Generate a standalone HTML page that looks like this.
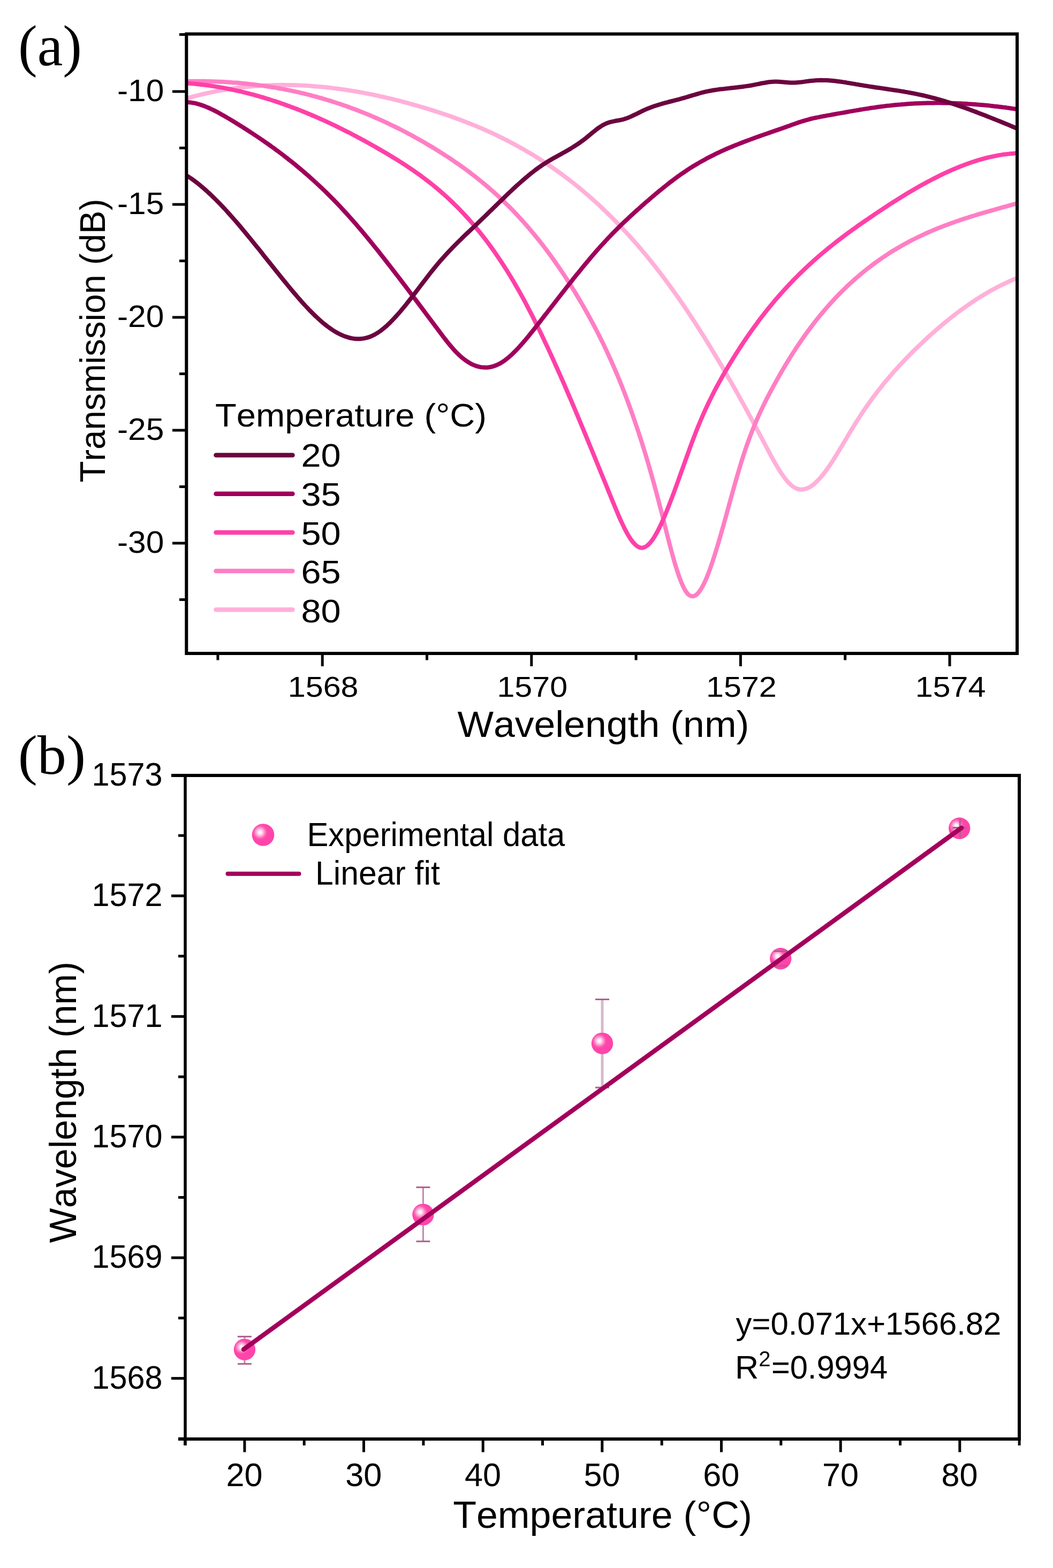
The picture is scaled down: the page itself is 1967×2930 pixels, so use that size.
<!DOCTYPE html><html><head><meta charset="utf-8"><style>html,body{margin:0;padding:0;background:#fff}svg{display:block}text{font-kerning:none;font-variant-ligatures:none}</style></head><body>
<svg width="1967" height="2930" viewBox="0 0 1967 2930">
<defs><clipPath id="ca"><rect x="348" y="63" width="1552" height="1158"/></clipPath><radialGradient id="sph" cx="0.36" cy="0.385" r="0.46" fx="0.36" fy="0.385"><stop offset="0" stop-color="#ffffff"/><stop offset="0.15" stop-color="#ffeef7"/><stop offset="0.35" stop-color="#ffb0d8"/><stop offset="0.6" stop-color="#ff5cb4"/><stop offset="0.75" stop-color="#ff45aa"/><stop offset="1" stop-color="#ff45aa"/></radialGradient></defs>
<rect width="1967" height="2930" fill="#fff"/>
<g clip-path="url(#ca)" fill="none" stroke-linejoin="round" stroke-linecap="round">
<path d="M345.0,184.9 C346.0,184.7 349.0,183.8 351.0,183.2 C353.0,182.6 355.0,182.1 357.0,181.5 C359.0,181.0 361.0,180.4 363.0,179.9 C365.0,179.4 367.0,178.9 369.0,178.4 C371.0,177.9 373.0,177.4 375.0,176.9 C377.0,176.4 379.0,175.9 381.0,175.5 C383.0,175.0 385.0,174.6 387.0,174.1 C389.0,173.7 391.0,173.2 393.0,172.8 C395.0,172.4 397.0,172.0 399.0,171.6 C401.0,171.2 403.0,170.8 405.0,170.4 C407.0,170.0 409.0,169.6 411.0,169.3 C413.0,168.9 415.0,168.6 417.0,168.2 C419.0,167.9 421.0,167.5 423.0,167.2 C425.0,166.9 427.0,166.6 429.0,166.3 C431.0,166.0 433.0,165.7 435.0,165.4 C437.0,165.1 439.0,164.8 441.0,164.6 C443.0,164.3 445.0,164.0 447.0,163.8 C449.0,163.6 451.0,163.3 453.0,163.1 C455.0,162.9 457.0,162.6 459.0,162.4 C461.0,162.2 463.0,162.0 465.0,161.8 C467.0,161.6 469.0,161.5 471.0,161.3 C473.0,161.1 475.0,161.0 477.0,160.8 C479.0,160.7 481.0,160.5 483.0,160.4 C485.0,160.2 487.0,160.1 489.0,160.0 C491.0,159.9 493.0,159.8 495.0,159.7 C497.0,159.6 499.0,159.5 501.0,159.4 C503.0,159.3 505.0,159.2 507.0,159.2 C509.0,159.1 511.0,159.1 513.0,159.0 C515.0,159.0 517.0,158.9 519.0,158.9 C521.0,158.9 523.0,158.9 525.0,158.8 C527.0,158.8 529.0,158.8 531.0,158.8 C533.0,158.8 535.0,158.8 537.0,158.9 C539.0,158.9 541.0,158.9 543.0,159.0 C545.0,159.0 547.0,159.0 549.0,159.1 C551.0,159.2 553.0,159.2 555.0,159.3 C557.0,159.4 559.0,159.4 561.0,159.5 C563.0,159.6 565.0,159.7 567.0,159.8 C569.0,159.9 571.0,160.0 573.0,160.1 C575.0,160.3 577.0,160.4 579.0,160.5 C581.0,160.7 583.0,160.8 585.0,161.0 C587.0,161.1 589.0,161.3 591.0,161.4 C593.0,161.6 595.0,161.8 597.0,162.0 C599.0,162.1 601.0,162.3 603.0,162.5 C605.0,162.7 607.0,162.9 609.0,163.1 C611.0,163.3 613.0,163.6 615.0,163.8 C617.0,164.0 619.0,164.2 621.0,164.5 C623.0,164.7 625.0,165.0 627.0,165.2 C629.0,165.5 631.0,165.8 633.0,166.0 C635.0,166.3 637.0,166.6 639.0,166.9 C641.0,167.1 643.0,167.4 645.0,167.7 C647.0,168.0 649.0,168.3 651.0,168.7 C653.0,169.0 655.0,169.3 657.0,169.6 C659.0,169.9 661.0,170.3 663.0,170.6 C665.0,171.0 667.0,171.3 669.0,171.7 C671.0,172.0 673.0,172.4 675.0,172.7 C677.0,173.1 679.0,173.5 681.0,173.9 C683.0,174.2 685.0,174.6 687.0,175.0 C689.0,175.4 691.0,175.8 693.0,176.2 C695.0,176.6 697.0,177.0 699.0,177.5 C701.0,177.9 703.0,178.3 705.0,178.7 C707.0,179.2 709.0,179.6 711.0,180.1 C713.0,180.5 715.0,181.0 717.0,181.4 C719.0,181.9 721.0,182.3 723.0,182.8 C725.0,183.3 727.0,183.8 729.0,184.2 C731.0,184.7 733.0,185.2 735.0,185.7 C737.0,186.2 739.0,186.7 741.0,187.2 C743.0,187.7 745.0,188.2 747.0,188.7 C749.0,189.2 751.0,189.8 753.0,190.3 C755.0,190.8 757.0,191.4 759.0,191.9 C761.0,192.4 763.0,193.0 765.0,193.5 C767.0,194.1 769.0,194.6 771.0,195.2 C773.0,195.8 775.0,196.3 777.0,196.9 C779.0,197.5 781.0,198.1 783.0,198.6 C785.0,199.2 787.0,199.8 789.0,200.4 C791.0,201.0 793.0,201.6 795.0,202.2 C797.0,202.8 799.0,203.4 801.0,204.0 C803.0,204.7 805.0,205.3 807.0,205.9 C809.0,206.5 811.0,207.2 813.0,207.8 C815.0,208.5 817.0,209.1 819.0,209.8 C821.0,210.4 823.0,211.1 825.0,211.7 C827.0,212.4 829.0,213.1 831.0,213.7 C833.0,214.4 835.0,215.1 837.0,215.8 C839.0,216.5 841.0,217.2 843.0,217.9 C845.0,218.6 847.0,219.3 849.0,220.0 C851.0,220.8 853.0,221.5 855.0,222.2 C857.0,223.0 859.0,223.7 861.0,224.5 C863.0,225.2 865.0,226.0 867.0,226.7 C869.0,227.5 871.0,228.3 873.0,229.1 C875.0,229.8 877.0,230.6 879.0,231.4 C881.0,232.2 883.0,233.0 885.0,233.9 C887.0,234.7 889.0,235.5 891.0,236.3 C893.0,237.2 895.0,238.0 897.0,238.9 C899.0,239.7 901.0,240.6 903.0,241.5 C905.0,242.3 907.0,243.2 909.0,244.1 C911.0,245.0 913.0,245.9 915.0,246.8 C917.0,247.7 919.0,248.7 921.0,249.6 C923.0,250.5 925.0,251.5 927.0,252.4 C929.0,253.4 931.0,254.3 933.0,255.3 C935.0,256.3 937.0,257.3 939.0,258.3 C941.0,259.3 943.0,260.3 945.0,261.3 C947.0,262.3 949.0,263.3 951.0,264.4 C953.0,265.4 955.0,266.5 957.0,267.5 C959.0,268.6 961.0,269.7 963.0,270.8 C965.0,271.8 967.0,272.9 969.0,274.1 C971.0,275.2 973.0,276.3 975.0,277.4 C977.0,278.6 979.0,279.7 981.0,280.9 C983.0,282.0 985.0,283.2 987.0,284.4 C989.0,285.6 991.0,286.8 993.0,288.0 C995.0,289.2 997.0,290.4 999.0,291.6 C1001.0,292.9 1003.0,294.1 1005.0,295.4 C1007.0,296.7 1009.0,297.9 1011.0,299.2 C1013.0,300.5 1015.0,301.8 1017.0,303.1 C1019.0,304.4 1021.0,305.8 1023.0,307.1 C1025.0,308.5 1027.0,309.8 1029.0,311.2 C1031.0,312.6 1033.0,314.0 1035.0,315.4 C1037.0,316.8 1039.0,318.2 1041.0,319.6 C1043.0,321.0 1045.0,322.5 1047.0,324.0 C1049.0,325.4 1051.0,326.9 1053.0,328.4 C1055.0,329.9 1057.0,331.4 1059.0,332.9 C1061.0,334.4 1063.0,336.0 1065.0,337.5 C1067.0,339.1 1069.0,340.6 1071.0,342.2 C1073.0,343.8 1075.0,345.4 1077.0,347.0 C1079.0,348.6 1081.0,350.3 1083.0,351.9 C1085.0,353.6 1087.0,355.2 1089.0,356.9 C1091.0,358.6 1093.0,360.3 1095.0,362.0 C1097.0,363.7 1099.0,365.5 1101.0,367.2 C1103.0,369.0 1105.0,370.7 1107.0,372.5 C1109.0,374.3 1111.0,376.1 1113.0,377.9 C1115.0,379.7 1117.0,381.6 1119.0,383.4 C1121.0,385.3 1123.0,387.2 1125.0,389.0 C1127.0,390.9 1129.0,392.8 1131.0,394.8 C1133.0,396.7 1135.0,398.6 1137.0,400.6 C1139.0,402.6 1141.0,404.5 1143.0,406.5 C1145.0,408.5 1147.0,410.6 1149.0,412.6 C1151.0,414.6 1153.0,416.7 1155.0,418.8 C1157.0,420.8 1159.0,422.9 1161.0,425.0 C1163.0,427.1 1165.0,429.3 1167.0,431.4 C1169.0,433.6 1171.0,435.8 1173.0,437.9 C1175.0,440.1 1177.0,442.3 1179.0,444.6 C1181.0,446.8 1183.0,449.1 1185.0,451.3 C1187.0,453.6 1189.0,455.9 1191.0,458.2 C1193.0,460.5 1195.0,462.9 1197.0,465.2 C1199.0,467.6 1201.0,469.9 1203.0,472.3 C1205.0,474.7 1207.0,477.1 1209.0,479.6 C1211.0,482.0 1213.0,484.5 1215.0,486.9 C1217.0,489.4 1219.0,491.9 1221.0,494.4 C1223.0,497.0 1225.0,499.5 1227.0,502.1 C1229.0,504.6 1231.0,507.2 1233.0,509.8 C1235.0,512.4 1237.0,515.1 1239.0,517.7 C1241.0,520.4 1243.0,523.1 1245.0,525.8 C1247.0,528.5 1249.0,531.2 1251.0,533.9 C1253.0,536.7 1255.0,539.4 1257.0,542.2 C1259.0,545.0 1261.0,547.8 1263.0,550.7 C1265.0,553.5 1267.0,556.4 1269.0,559.2 C1271.0,562.1 1273.0,565.0 1275.0,567.9 C1277.0,570.9 1279.0,573.8 1281.0,576.8 C1283.0,579.7 1285.0,582.7 1287.0,585.7 C1289.0,588.8 1291.0,591.8 1293.0,594.8 C1295.0,597.9 1297.0,601.0 1299.0,604.1 C1301.0,607.2 1303.0,610.3 1305.0,613.4 C1307.0,616.5 1309.0,619.7 1311.0,622.9 C1313.0,626.0 1315.0,629.2 1317.0,632.4 C1319.0,635.7 1321.0,638.9 1323.0,642.1 C1325.0,645.4 1327.0,648.7 1329.0,652.0 C1331.0,655.2 1333.0,658.6 1335.0,661.9 C1337.0,665.2 1339.0,668.6 1341.0,671.9 C1343.0,675.3 1345.0,678.7 1347.0,682.1 C1349.0,685.5 1351.0,688.9 1353.0,692.3 C1355.0,695.7 1357.0,699.2 1359.0,702.7 C1361.0,706.1 1363.0,709.6 1365.0,713.1 C1367.0,716.6 1369.0,720.1 1371.0,723.7 C1373.0,727.2 1375.0,730.8 1377.0,734.3 C1379.0,737.9 1381.0,741.5 1383.0,745.1 C1385.0,748.7 1387.0,752.3 1389.0,755.9 C1391.0,759.5 1393.0,763.2 1395.0,766.8 C1397.0,770.5 1399.0,774.2 1401.0,777.9 C1403.0,781.6 1405.0,785.3 1407.0,789.0 C1409.0,792.7 1411.0,796.4 1413.0,800.2 C1415.0,803.9 1417.0,807.7 1419.0,811.4 C1421.0,815.2 1423.0,819.0 1425.0,822.8 C1427.0,826.6 1429.0,830.4 1431.0,834.2 C1433.0,838.0 1435.0,841.8 1437.0,845.6 C1439.0,849.3 1441.0,853.1 1443.0,856.7 C1445.0,860.3 1447.0,863.9 1449.0,867.3 C1451.0,870.8 1453.0,874.2 1455.0,877.4 C1457.0,880.6 1459.0,883.7 1461.0,886.6 C1463.0,889.5 1465.0,892.3 1467.0,894.8 C1469.0,897.4 1471.0,899.7 1473.0,901.8 C1475.0,903.9 1477.0,905.9 1479.0,907.5 C1481.0,909.1 1483.0,910.5 1485.0,911.5 C1487.0,912.6 1489.0,913.4 1491.0,913.9 C1493.0,914.5 1495.0,914.7 1497.0,914.7 C1499.0,914.7 1501.0,914.5 1503.0,914.0 C1505.0,913.6 1507.0,912.8 1509.0,911.9 C1511.0,911.0 1513.0,909.9 1515.0,908.6 C1517.0,907.3 1519.0,905.8 1521.0,904.1 C1523.0,902.4 1525.0,900.5 1527.0,898.5 C1529.0,896.5 1531.0,894.3 1533.0,892.0 C1535.0,889.7 1537.0,887.2 1539.0,884.7 C1541.0,882.1 1543.0,879.4 1545.0,876.6 C1547.0,873.8 1549.0,870.9 1551.0,868.0 C1553.0,865.0 1555.0,861.9 1557.0,858.8 C1559.0,855.7 1561.0,852.4 1563.0,849.2 C1565.0,846.0 1567.0,842.7 1569.0,839.3 C1571.0,836.0 1573.0,832.7 1575.0,829.3 C1577.0,825.9 1579.0,822.5 1581.0,819.2 C1583.0,815.8 1585.0,812.4 1587.0,809.1 C1589.0,805.8 1591.0,802.4 1593.0,799.1 C1595.0,795.9 1597.0,792.6 1599.0,789.5 C1601.0,786.3 1603.0,783.1 1605.0,780.1 C1607.0,777.0 1609.0,773.9 1611.0,770.9 C1613.0,768.0 1615.0,765.0 1617.0,762.1 C1619.0,759.2 1621.0,756.4 1623.0,753.5 C1625.0,750.7 1627.0,748.0 1629.0,745.2 C1631.0,742.5 1633.0,739.8 1635.0,737.1 C1637.0,734.5 1639.0,731.9 1641.0,729.3 C1643.0,726.7 1645.0,724.2 1647.0,721.7 C1649.0,719.2 1651.0,716.7 1653.0,714.3 C1655.0,711.9 1657.0,709.5 1659.0,707.1 C1661.0,704.7 1663.0,702.4 1665.0,700.1 C1667.0,697.8 1669.0,695.5 1671.0,693.2 C1673.0,691.0 1675.0,688.8 1677.0,686.6 C1679.0,684.4 1681.0,682.2 1683.0,680.1 C1685.0,677.9 1687.0,675.8 1689.0,673.7 C1691.0,671.6 1693.0,669.5 1695.0,667.5 C1697.0,665.4 1699.0,663.4 1701.0,661.4 C1703.0,659.4 1705.0,657.4 1707.0,655.4 C1709.0,653.4 1711.0,651.5 1713.0,649.5 C1715.0,647.6 1717.0,645.7 1719.0,643.8 C1721.0,641.9 1723.0,640.0 1725.0,638.1 C1727.0,636.2 1729.0,634.4 1731.0,632.5 C1733.0,630.7 1735.0,628.8 1737.0,627.0 C1739.0,625.2 1741.0,623.4 1743.0,621.7 C1745.0,619.9 1747.0,618.1 1749.0,616.4 C1751.0,614.7 1753.0,612.9 1755.0,611.2 C1757.0,609.5 1759.0,607.8 1761.0,606.2 C1763.0,604.5 1765.0,602.8 1767.0,601.2 C1769.0,599.6 1771.0,597.9 1773.0,596.3 C1775.0,594.7 1777.0,593.2 1779.0,591.6 C1781.0,590.0 1783.0,588.5 1785.0,586.9 C1787.0,585.4 1789.0,583.9 1791.0,582.4 C1793.0,580.9 1795.0,579.4 1797.0,578.0 C1799.0,576.5 1801.0,575.1 1803.0,573.7 C1805.0,572.2 1807.0,570.8 1809.0,569.5 C1811.0,568.1 1813.0,566.7 1815.0,565.4 C1817.0,564.0 1819.0,562.7 1821.0,561.4 C1823.0,560.1 1825.0,558.8 1827.0,557.5 C1829.0,556.2 1831.0,555.0 1833.0,553.7 C1835.0,552.5 1837.0,551.3 1839.0,550.1 C1841.0,548.9 1843.0,547.7 1845.0,546.5 C1847.0,545.4 1849.0,544.2 1851.0,543.1 C1853.0,542.0 1855.0,540.9 1857.0,539.8 C1859.0,538.7 1861.0,537.7 1863.0,536.6 C1865.0,535.6 1867.0,534.6 1869.0,533.5 C1871.0,532.5 1873.0,531.6 1875.0,530.6 C1877.0,529.6 1879.0,528.7 1881.0,527.8 C1883.0,526.8 1885.0,525.9 1887.0,525.0 C1889.0,524.2 1891.0,523.3 1893.0,522.4 C1895.0,521.6 1897.0,520.8 1899.0,520.0 C1901.0,519.2 1904.0,518.0 1905.0,517.6" stroke="#ffb0da" stroke-width="8"/>
<path d="M345.0,152.0 C346.0,152.0 349.0,151.9 351.0,151.9 C353.0,151.9 355.0,151.8 357.0,151.8 C359.0,151.8 361.0,151.8 363.0,151.7 C365.0,151.7 367.0,151.7 369.0,151.7 C371.0,151.7 373.0,151.7 375.0,151.7 C377.0,151.8 379.0,151.8 381.0,151.8 C383.0,151.8 385.0,151.9 387.0,151.9 C389.0,151.9 391.0,152.0 393.0,152.0 C395.0,152.1 397.0,152.2 399.0,152.2 C401.0,152.3 403.0,152.4 405.0,152.4 C407.0,152.5 409.0,152.6 411.0,152.7 C413.0,152.8 415.0,152.9 417.0,153.0 C419.0,153.1 421.0,153.2 423.0,153.3 C425.0,153.5 427.0,153.6 429.0,153.7 C431.0,153.9 433.0,154.0 435.0,154.2 C437.0,154.3 439.0,154.5 441.0,154.6 C443.0,154.8 445.0,155.0 447.0,155.1 C449.0,155.3 451.0,155.5 453.0,155.7 C455.0,155.9 457.0,156.1 459.0,156.3 C461.0,156.5 463.0,156.7 465.0,156.9 C467.0,157.1 469.0,157.4 471.0,157.6 C473.0,157.8 475.0,158.1 477.0,158.3 C479.0,158.6 481.0,158.8 483.0,159.1 C485.0,159.4 487.0,159.6 489.0,159.9 C491.0,160.2 493.0,160.5 495.0,160.8 C497.0,161.1 499.0,161.4 501.0,161.7 C503.0,162.0 505.0,162.3 507.0,162.7 C509.0,163.0 511.0,163.3 513.0,163.6 C515.0,164.0 517.0,164.3 519.0,164.7 C521.0,165.0 523.0,165.4 525.0,165.8 C527.0,166.2 529.0,166.5 531.0,166.9 C533.0,167.3 535.0,167.7 537.0,168.1 C539.0,168.5 541.0,168.9 543.0,169.3 C545.0,169.8 547.0,170.2 549.0,170.6 C551.0,171.1 553.0,171.5 555.0,171.9 C557.0,172.4 559.0,172.9 561.0,173.3 C563.0,173.8 565.0,174.3 567.0,174.7 C569.0,175.2 571.0,175.7 573.0,176.2 C575.0,176.7 577.0,177.2 579.0,177.7 C581.0,178.3 583.0,178.8 585.0,179.3 C587.0,179.8 589.0,180.4 591.0,180.9 C593.0,181.5 595.0,182.0 597.0,182.6 C599.0,183.2 601.0,183.7 603.0,184.3 C605.0,184.9 607.0,185.5 609.0,186.1 C611.0,186.7 613.0,187.3 615.0,187.9 C617.0,188.5 619.0,189.1 621.0,189.8 C623.0,190.4 625.0,191.1 627.0,191.7 C629.0,192.4 631.0,193.0 633.0,193.7 C635.0,194.3 637.0,195.0 639.0,195.7 C641.0,196.4 643.0,197.1 645.0,197.8 C647.0,198.5 649.0,199.2 651.0,199.9 C653.0,200.6 655.0,201.4 657.0,202.1 C659.0,202.8 661.0,203.6 663.0,204.3 C665.0,205.1 667.0,205.9 669.0,206.6 C671.0,207.4 673.0,208.2 675.0,209.0 C677.0,209.8 679.0,210.6 681.0,211.4 C683.0,212.2 685.0,213.0 687.0,213.8 C689.0,214.7 691.0,215.5 693.0,216.3 C695.0,217.2 697.0,218.0 699.0,218.9 C701.0,219.8 703.0,220.6 705.0,221.5 C707.0,222.4 709.0,223.3 711.0,224.2 C713.0,225.1 715.0,226.0 717.0,226.9 C719.0,227.8 721.0,228.8 723.0,229.7 C725.0,230.7 727.0,231.6 729.0,232.6 C731.0,233.5 733.0,234.5 735.0,235.5 C737.0,236.4 739.0,237.4 741.0,238.4 C743.0,239.4 745.0,240.4 747.0,241.4 C749.0,242.4 751.0,243.5 753.0,244.5 C755.0,245.5 757.0,246.6 759.0,247.6 C761.0,248.7 763.0,249.7 765.0,250.8 C767.0,251.9 769.0,253.0 771.0,254.1 C773.0,255.1 775.0,256.2 777.0,257.4 C779.0,258.5 781.0,259.6 783.0,260.7 C785.0,261.9 787.0,263.0 789.0,264.1 C791.0,265.3 793.0,266.5 795.0,267.6 C797.0,268.8 799.0,270.0 801.0,271.2 C803.0,272.4 805.0,273.6 807.0,274.8 C809.0,276.0 811.0,277.2 813.0,278.4 C815.0,279.7 817.0,280.9 819.0,282.2 C821.0,283.4 823.0,284.7 825.0,285.9 C827.0,287.2 829.0,288.5 831.0,289.8 C833.0,291.1 835.0,292.4 837.0,293.7 C839.0,295.0 841.0,296.3 843.0,297.7 C845.0,299.0 847.0,300.4 849.0,301.8 C851.0,303.1 853.0,304.5 855.0,305.9 C857.0,307.3 859.0,308.7 861.0,310.1 C863.0,311.5 865.0,313.0 867.0,314.4 C869.0,315.9 871.0,317.4 873.0,318.8 C875.0,320.3 877.0,321.8 879.0,323.3 C881.0,324.9 883.0,326.4 885.0,327.9 C887.0,329.5 889.0,331.1 891.0,332.6 C893.0,334.2 895.0,335.8 897.0,337.5 C899.0,339.1 901.0,340.7 903.0,342.4 C905.0,344.0 907.0,345.7 909.0,347.4 C911.0,349.1 913.0,350.8 915.0,352.6 C917.0,354.3 919.0,356.1 921.0,357.8 C923.0,359.6 925.0,361.4 927.0,363.2 C929.0,365.1 931.0,366.9 933.0,368.8 C935.0,370.7 937.0,372.5 939.0,374.5 C941.0,376.4 943.0,378.3 945.0,380.3 C947.0,382.2 949.0,384.2 951.0,386.2 C953.0,388.2 955.0,390.2 957.0,392.3 C959.0,394.4 961.0,396.4 963.0,398.5 C965.0,400.7 967.0,402.8 969.0,404.9 C971.0,407.1 973.0,409.3 975.0,411.5 C977.0,413.7 979.0,416.0 981.0,418.2 C983.0,420.5 985.0,422.8 987.0,425.1 C989.0,427.4 991.0,429.8 993.0,432.2 C995.0,434.5 997.0,436.9 999.0,439.4 C1001.0,441.8 1003.0,444.3 1005.0,446.8 C1007.0,449.3 1009.0,451.8 1011.0,454.4 C1013.0,456.9 1015.0,459.5 1017.0,462.1 C1019.0,464.8 1021.0,467.4 1023.0,470.1 C1025.0,472.8 1027.0,475.5 1029.0,478.3 C1031.0,481.0 1033.0,483.8 1035.0,486.6 C1037.0,489.4 1039.0,492.3 1041.0,495.2 C1043.0,498.0 1045.0,501.0 1047.0,503.9 C1049.0,506.9 1051.0,509.8 1053.0,512.9 C1055.0,515.9 1057.0,518.9 1059.0,522.0 C1061.0,525.1 1063.0,528.3 1065.0,531.4 C1067.0,534.6 1069.0,537.8 1071.0,541.0 C1073.0,544.3 1075.0,547.6 1077.0,550.9 C1079.0,554.2 1081.0,557.6 1083.0,560.9 C1085.0,564.3 1087.0,567.8 1089.0,571.2 C1091.0,574.7 1093.0,578.2 1095.0,581.8 C1097.0,585.3 1099.0,588.9 1101.0,592.6 C1103.0,596.2 1105.0,599.9 1107.0,603.6 C1109.0,607.4 1111.0,611.2 1113.0,615.0 C1115.0,618.8 1117.0,622.7 1119.0,626.7 C1121.0,630.7 1123.0,634.7 1125.0,638.8 C1127.0,642.8 1129.0,647.0 1131.0,651.2 C1133.0,655.4 1135.0,659.7 1137.0,664.1 C1139.0,668.4 1141.0,672.8 1143.0,677.3 C1145.0,681.9 1147.0,686.4 1149.0,691.1 C1151.0,695.8 1153.0,700.5 1155.0,705.3 C1157.0,710.2 1159.0,715.1 1161.0,720.1 C1163.0,725.1 1165.0,730.2 1167.0,735.4 C1169.0,740.6 1171.0,745.9 1173.0,751.2 C1175.0,756.6 1177.0,762.1 1179.0,767.7 C1181.0,773.3 1183.0,779.0 1185.0,784.8 C1187.0,790.6 1189.0,796.5 1191.0,802.5 C1193.0,808.5 1195.0,814.6 1197.0,820.8 C1199.0,827.1 1201.0,833.4 1203.0,839.9 C1205.0,846.4 1207.0,853.0 1209.0,859.7 C1211.0,866.5 1213.0,873.3 1215.0,880.3 C1217.0,887.3 1219.0,894.4 1221.0,901.6 C1223.0,908.8 1225.0,916.2 1227.0,923.7 C1229.0,931.2 1231.0,938.9 1233.0,946.7 C1235.0,954.4 1237.0,962.4 1239.0,970.3 C1241.0,978.3 1243.0,986.3 1245.0,994.2 C1247.0,1002.1 1249.0,1010.0 1251.0,1017.6 C1253.0,1025.2 1255.0,1032.7 1257.0,1039.8 C1259.0,1046.9 1261.0,1053.9 1263.0,1060.3 C1265.0,1066.8 1267.0,1072.9 1269.0,1078.4 C1271.0,1084.0 1273.0,1089.1 1275.0,1093.5 C1277.0,1097.9 1279.0,1101.8 1281.0,1104.8 C1283.0,1107.9 1285.0,1110.3 1287.0,1111.9 C1289.0,1113.5 1291.0,1114.2 1293.0,1114.3 C1295.0,1114.5 1297.0,1113.8 1299.0,1112.6 C1301.0,1111.4 1303.0,1109.5 1305.0,1107.1 C1307.0,1104.7 1309.0,1101.7 1311.0,1098.2 C1313.0,1094.8 1315.0,1090.8 1317.0,1086.4 C1319.0,1082.0 1321.0,1077.2 1323.0,1072.0 C1325.0,1066.9 1327.0,1061.3 1329.0,1055.5 C1331.0,1049.7 1333.0,1043.6 1335.0,1037.3 C1337.0,1031.0 1339.0,1024.4 1341.0,1017.7 C1343.0,1011.0 1345.0,1004.1 1347.0,997.1 C1349.0,990.1 1351.0,983.0 1353.0,975.8 C1355.0,968.6 1357.0,961.3 1359.0,954.1 C1361.0,946.8 1363.0,939.5 1365.0,932.2 C1367.0,925.0 1369.0,917.8 1371.0,910.6 C1373.0,903.5 1375.0,896.4 1377.0,889.6 C1379.0,882.7 1381.0,875.9 1383.0,869.3 C1385.0,862.7 1387.0,856.3 1389.0,850.2 C1391.0,844.0 1393.0,838.1 1395.0,832.4 C1397.0,826.7 1399.0,821.2 1401.0,815.9 C1403.0,810.6 1405.0,805.5 1407.0,800.5 C1409.0,795.6 1411.0,790.8 1413.0,786.2 C1415.0,781.5 1417.0,777.1 1419.0,772.7 C1421.0,768.3 1423.0,764.1 1425.0,759.9 C1427.0,755.8 1429.0,751.8 1431.0,747.8 C1433.0,743.8 1435.0,740.0 1437.0,736.2 C1439.0,732.3 1441.0,728.6 1443.0,724.9 C1445.0,721.1 1447.0,717.5 1449.0,713.9 C1451.0,710.3 1453.0,706.7 1455.0,703.2 C1457.0,699.6 1459.0,696.2 1461.0,692.8 C1463.0,689.3 1465.0,686.0 1467.0,682.6 C1469.0,679.3 1471.0,676.0 1473.0,672.8 C1475.0,669.5 1477.0,666.3 1479.0,663.2 C1481.0,660.0 1483.0,656.9 1485.0,653.9 C1487.0,650.8 1489.0,647.8 1491.0,644.8 C1493.0,641.8 1495.0,638.9 1497.0,636.0 C1499.0,633.1 1501.0,630.2 1503.0,627.4 C1505.0,624.6 1507.0,621.9 1509.0,619.1 C1511.0,616.4 1513.0,613.7 1515.0,611.0 C1517.0,608.4 1519.0,605.8 1521.0,603.2 C1523.0,600.6 1525.0,598.1 1527.0,595.6 C1529.0,593.1 1531.0,590.6 1533.0,588.2 C1535.0,585.8 1537.0,583.4 1539.0,581.0 C1541.0,578.7 1543.0,576.3 1545.0,574.0 C1547.0,571.8 1549.0,569.5 1551.0,567.3 C1553.0,565.1 1555.0,562.9 1557.0,560.7 C1559.0,558.6 1561.0,556.4 1563.0,554.3 C1565.0,552.3 1567.0,550.2 1569.0,548.2 C1571.0,546.1 1573.0,544.1 1575.0,542.2 C1577.0,540.2 1579.0,538.3 1581.0,536.3 C1583.0,534.4 1585.0,532.6 1587.0,530.7 C1589.0,528.8 1591.0,527.0 1593.0,525.2 C1595.0,523.4 1597.0,521.6 1599.0,519.9 C1601.0,518.1 1603.0,516.4 1605.0,514.7 C1607.0,513.0 1609.0,511.4 1611.0,509.7 C1613.0,508.1 1615.0,506.4 1617.0,504.8 C1619.0,503.2 1621.0,501.7 1623.0,500.1 C1625.0,498.6 1627.0,497.0 1629.0,495.5 C1631.0,494.0 1633.0,492.5 1635.0,491.1 C1637.0,489.6 1639.0,488.2 1641.0,486.7 C1643.0,485.3 1645.0,483.9 1647.0,482.5 C1649.0,481.2 1651.0,479.8 1653.0,478.5 C1655.0,477.1 1657.0,475.8 1659.0,474.5 C1661.0,473.2 1663.0,472.0 1665.0,470.7 C1667.0,469.4 1669.0,468.2 1671.0,467.0 C1673.0,465.8 1675.0,464.6 1677.0,463.4 C1679.0,462.2 1681.0,461.0 1683.0,459.9 C1685.0,458.8 1687.0,457.6 1689.0,456.5 C1691.0,455.4 1693.0,454.3 1695.0,453.2 C1697.0,452.2 1699.0,451.1 1701.0,450.1 C1703.0,449.0 1705.0,448.0 1707.0,447.0 C1709.0,446.0 1711.0,445.0 1713.0,444.0 C1715.0,443.0 1717.0,442.0 1719.0,441.1 C1721.0,440.1 1723.0,439.2 1725.0,438.3 C1727.0,437.4 1729.0,436.4 1731.0,435.5 C1733.0,434.6 1735.0,433.8 1737.0,432.9 C1739.0,432.0 1741.0,431.2 1743.0,430.3 C1745.0,429.5 1747.0,428.7 1749.0,427.8 C1751.0,427.0 1753.0,426.2 1755.0,425.4 C1757.0,424.6 1759.0,423.8 1761.0,423.1 C1763.0,422.3 1765.0,421.5 1767.0,420.8 C1769.0,420.0 1771.0,419.3 1773.0,418.5 C1775.0,417.8 1777.0,417.1 1779.0,416.4 C1781.0,415.6 1783.0,414.9 1785.0,414.2 C1787.0,413.5 1789.0,412.9 1791.0,412.2 C1793.0,411.5 1795.0,410.8 1797.0,410.2 C1799.0,409.5 1801.0,408.8 1803.0,408.2 C1805.0,407.5 1807.0,406.9 1809.0,406.3 C1811.0,405.6 1813.0,405.0 1815.0,404.4 C1817.0,403.8 1819.0,403.1 1821.0,402.5 C1823.0,401.9 1825.0,401.3 1827.0,400.7 C1829.0,400.1 1831.0,399.5 1833.0,398.9 C1835.0,398.3 1837.0,397.7 1839.0,397.2 C1841.0,396.6 1843.0,396.0 1845.0,395.4 C1847.0,394.8 1849.0,394.3 1851.0,393.7 C1853.0,393.1 1855.0,392.6 1857.0,392.0 C1859.0,391.4 1861.0,390.9 1863.0,390.3 C1865.0,389.7 1867.0,389.2 1869.0,388.6 C1871.0,388.1 1873.0,387.5 1875.0,386.9 C1877.0,386.4 1879.0,385.8 1881.0,385.3 C1883.0,384.7 1885.0,384.2 1887.0,383.6 C1889.0,383.1 1891.0,382.5 1893.0,381.9 C1895.0,381.4 1897.0,380.8 1899.0,380.3 C1901.0,379.7 1904.0,378.9 1905.0,378.6" stroke="#ff7ec4" stroke-width="8"/>
<path d="M345.0,155.2 C346.0,155.2 349.0,155.4 351.0,155.6 C353.0,155.7 355.0,155.9 357.0,156.1 C359.0,156.3 361.0,156.4 363.0,156.6 C365.0,156.8 367.0,157.0 369.0,157.2 C371.0,157.4 373.0,157.7 375.0,157.9 C377.0,158.1 379.0,158.4 381.0,158.6 C383.0,158.9 385.0,159.1 387.0,159.4 C389.0,159.7 391.0,160.0 393.0,160.2 C395.0,160.5 397.0,160.8 399.0,161.1 C401.0,161.5 403.0,161.8 405.0,162.1 C407.0,162.4 409.0,162.8 411.0,163.1 C413.0,163.5 415.0,163.8 417.0,164.2 C419.0,164.6 421.0,164.9 423.0,165.3 C425.0,165.7 427.0,166.1 429.0,166.5 C431.0,166.9 433.0,167.3 435.0,167.8 C437.0,168.2 439.0,168.6 441.0,169.1 C443.0,169.5 445.0,170.0 447.0,170.4 C449.0,170.9 451.0,171.4 453.0,171.8 C455.0,172.3 457.0,172.8 459.0,173.3 C461.0,173.8 463.0,174.3 465.0,174.8 C467.0,175.3 469.0,175.9 471.0,176.4 C473.0,176.9 475.0,177.5 477.0,178.0 C479.0,178.6 481.0,179.1 483.0,179.7 C485.0,180.3 487.0,180.9 489.0,181.5 C491.0,182.0 493.0,182.6 495.0,183.3 C497.0,183.9 499.0,184.5 501.0,185.1 C503.0,185.7 505.0,186.4 507.0,187.0 C509.0,187.6 511.0,188.3 513.0,188.9 C515.0,189.6 517.0,190.3 519.0,190.9 C521.0,191.6 523.0,192.3 525.0,193.0 C527.0,193.7 529.0,194.4 531.0,195.1 C533.0,195.8 535.0,196.5 537.0,197.3 C539.0,198.0 541.0,198.7 543.0,199.5 C545.0,200.2 547.0,200.9 549.0,201.7 C551.0,202.5 553.0,203.2 555.0,204.0 C557.0,204.8 559.0,205.6 561.0,206.4 C563.0,207.2 565.0,208.0 567.0,208.8 C569.0,209.6 571.0,210.4 573.0,211.2 C575.0,212.0 577.0,212.9 579.0,213.7 C581.0,214.6 583.0,215.4 585.0,216.3 C587.0,217.1 589.0,218.0 591.0,218.9 C593.0,219.7 595.0,220.6 597.0,221.5 C599.0,222.4 601.0,223.3 603.0,224.2 C605.0,225.1 607.0,226.0 609.0,226.9 C611.0,227.8 613.0,228.8 615.0,229.7 C617.0,230.6 619.0,231.6 621.0,232.5 C623.0,233.5 625.0,234.4 627.0,235.4 C629.0,236.4 631.0,237.3 633.0,238.3 C635.0,239.3 637.0,240.3 639.0,241.3 C641.0,242.3 643.0,243.3 645.0,244.3 C647.0,245.3 649.0,246.3 651.0,247.3 C653.0,248.4 655.0,249.4 657.0,250.4 C659.0,251.5 661.0,252.5 663.0,253.6 C665.0,254.6 667.0,255.7 669.0,256.8 C671.0,257.8 673.0,258.9 675.0,260.0 C677.0,261.1 679.0,262.1 681.0,263.2 C683.0,264.3 685.0,265.4 687.0,266.6 C689.0,267.7 691.0,268.8 693.0,269.9 C695.0,271.0 697.0,272.2 699.0,273.3 C701.0,274.4 703.0,275.6 705.0,276.7 C707.0,277.9 709.0,279.0 711.0,280.2 C713.0,281.4 715.0,282.5 717.0,283.7 C719.0,284.9 721.0,286.1 723.0,287.3 C725.0,288.5 727.0,289.7 729.0,290.9 C731.0,292.1 733.0,293.3 735.0,294.5 C737.0,295.7 739.0,297.0 741.0,298.2 C743.0,299.5 745.0,300.7 747.0,302.0 C749.0,303.3 751.0,304.5 753.0,305.8 C755.0,307.1 757.0,308.4 759.0,309.7 C761.0,311.1 763.0,312.4 765.0,313.7 C767.0,315.1 769.0,316.4 771.0,317.8 C773.0,319.2 775.0,320.6 777.0,322.0 C779.0,323.4 781.0,324.8 783.0,326.3 C785.0,327.7 787.0,329.2 789.0,330.7 C791.0,332.1 793.0,333.6 795.0,335.2 C797.0,336.7 799.0,338.2 801.0,339.8 C803.0,341.3 805.0,342.9 807.0,344.5 C809.0,346.1 811.0,347.8 813.0,349.4 C815.0,351.1 817.0,352.7 819.0,354.4 C821.0,356.1 823.0,357.8 825.0,359.6 C827.0,361.3 829.0,363.1 831.0,364.9 C833.0,366.7 835.0,368.5 837.0,370.3 C839.0,372.2 841.0,374.1 843.0,376.0 C845.0,377.9 847.0,379.8 849.0,381.8 C851.0,383.7 853.0,385.7 855.0,387.7 C857.0,389.8 859.0,391.8 861.0,393.9 C863.0,396.0 865.0,398.1 867.0,400.2 C869.0,402.4 871.0,404.6 873.0,406.8 C875.0,409.0 877.0,411.2 879.0,413.5 C881.0,415.8 883.0,418.1 885.0,420.5 C887.0,422.8 889.0,425.2 891.0,427.6 C893.0,430.0 895.0,432.5 897.0,435.0 C899.0,437.5 901.0,440.0 903.0,442.6 C905.0,445.2 907.0,447.8 909.0,450.4 C911.0,453.1 913.0,455.8 915.0,458.5 C917.0,461.2 919.0,464.0 921.0,466.8 C923.0,469.6 925.0,472.5 927.0,475.4 C929.0,478.3 931.0,481.2 933.0,484.2 C935.0,487.2 937.0,490.2 939.0,493.3 C941.0,496.4 943.0,499.5 945.0,502.6 C947.0,505.8 949.0,509.0 951.0,512.3 C953.0,515.5 955.0,518.8 957.0,522.2 C959.0,525.5 961.0,528.9 963.0,532.4 C965.0,535.8 967.0,539.3 969.0,542.9 C971.0,546.4 973.0,550.0 975.0,553.7 C977.0,557.3 979.0,561.0 981.0,564.7 C983.0,568.5 985.0,572.3 987.0,576.1 C989.0,579.9 991.0,583.8 993.0,587.7 C995.0,591.6 997.0,595.6 999.0,599.6 C1001.0,603.6 1003.0,607.6 1005.0,611.7 C1007.0,615.8 1009.0,619.9 1011.0,624.1 C1013.0,628.2 1015.0,632.4 1017.0,636.7 C1019.0,640.9 1021.0,645.1 1023.0,649.4 C1025.0,653.7 1027.0,658.1 1029.0,662.4 C1031.0,666.8 1033.0,671.2 1035.0,675.6 C1037.0,680.1 1039.0,684.5 1041.0,689.0 C1043.0,693.5 1045.0,698.0 1047.0,702.5 C1049.0,707.1 1051.0,711.6 1053.0,716.2 C1055.0,720.8 1057.0,725.4 1059.0,730.1 C1061.0,734.7 1063.0,739.4 1065.0,744.0 C1067.0,748.7 1069.0,753.4 1071.0,758.1 C1073.0,762.9 1075.0,767.6 1077.0,772.4 C1079.0,777.1 1081.0,781.9 1083.0,786.7 C1085.0,791.5 1087.0,796.3 1089.0,801.1 C1091.0,805.9 1093.0,810.7 1095.0,815.6 C1097.0,820.4 1099.0,825.3 1101.0,830.2 C1103.0,835.0 1105.0,839.9 1107.0,844.8 C1109.0,849.7 1111.0,854.6 1113.0,859.4 C1115.0,864.3 1117.0,869.2 1119.0,874.2 C1121.0,879.1 1123.0,884.0 1125.0,888.9 C1127.0,893.8 1129.0,898.7 1131.0,903.6 C1133.0,908.6 1135.0,913.5 1137.0,918.4 C1139.0,923.3 1141.0,928.3 1143.0,933.2 C1145.0,938.1 1147.0,943.0 1149.0,947.8 C1151.0,952.6 1153.0,957.4 1155.0,962.1 C1157.0,966.7 1159.0,971.3 1161.0,975.6 C1163.0,979.9 1165.0,984.2 1167.0,988.1 C1169.0,992.0 1171.0,995.8 1173.0,999.2 C1175.0,1002.6 1177.0,1005.8 1179.0,1008.6 C1181.0,1011.4 1183.0,1014.0 1185.0,1016.0 C1187.0,1018.1 1189.0,1019.9 1191.0,1021.1 C1193.0,1022.3 1195.0,1023.2 1197.0,1023.5 C1199.0,1023.8 1201.0,1023.6 1203.0,1022.9 C1205.0,1022.3 1207.0,1021.1 1209.0,1019.5 C1211.0,1018.0 1213.0,1015.9 1215.0,1013.6 C1217.0,1011.2 1219.0,1008.5 1221.0,1005.4 C1223.0,1002.4 1225.0,998.9 1227.0,995.3 C1229.0,991.6 1231.0,987.6 1233.0,983.5 C1235.0,979.3 1237.0,974.9 1239.0,970.3 C1241.0,965.7 1243.0,960.9 1245.0,956.0 C1247.0,951.1 1249.0,946.0 1251.0,940.9 C1253.0,935.7 1255.0,930.4 1257.0,925.1 C1259.0,919.7 1261.0,914.3 1263.0,908.8 C1265.0,903.3 1267.0,897.7 1269.0,892.2 C1271.0,886.6 1273.0,881.0 1275.0,875.4 C1277.0,869.8 1279.0,864.1 1281.0,858.6 C1283.0,853.0 1285.0,847.4 1287.0,841.9 C1289.0,836.5 1291.0,831.0 1293.0,825.7 C1295.0,820.3 1297.0,815.0 1299.0,809.9 C1301.0,804.7 1303.0,799.7 1305.0,794.8 C1307.0,789.9 1309.0,785.1 1311.0,780.5 C1313.0,775.8 1315.0,771.3 1317.0,766.9 C1319.0,762.5 1321.0,758.2 1323.0,754.0 C1325.0,749.8 1327.0,745.7 1329.0,741.7 C1331.0,737.7 1333.0,733.8 1335.0,729.9 C1337.0,726.1 1339.0,722.3 1341.0,718.7 C1343.0,715.0 1345.0,711.4 1347.0,707.8 C1349.0,704.2 1351.0,700.7 1353.0,697.3 C1355.0,693.8 1357.0,690.4 1359.0,687.1 C1361.0,683.7 1363.0,680.4 1365.0,677.1 C1367.0,673.8 1369.0,670.5 1371.0,667.3 C1373.0,664.1 1375.0,660.9 1377.0,657.8 C1379.0,654.7 1381.0,651.6 1383.0,648.5 C1385.0,645.5 1387.0,642.4 1389.0,639.4 C1391.0,636.5 1393.0,633.5 1395.0,630.6 C1397.0,627.7 1399.0,624.8 1401.0,621.9 C1403.0,619.1 1405.0,616.3 1407.0,613.5 C1409.0,610.7 1411.0,608.0 1413.0,605.3 C1415.0,602.6 1417.0,599.9 1419.0,597.2 C1421.0,594.6 1423.0,592.0 1425.0,589.4 C1427.0,586.8 1429.0,584.3 1431.0,581.7 C1433.0,579.2 1435.0,576.7 1437.0,574.3 C1439.0,571.8 1441.0,569.4 1443.0,567.0 C1445.0,564.6 1447.0,562.2 1449.0,559.8 C1451.0,557.5 1453.0,555.2 1455.0,552.9 C1457.0,550.6 1459.0,548.3 1461.0,546.1 C1463.0,543.9 1465.0,541.7 1467.0,539.5 C1469.0,537.3 1471.0,535.1 1473.0,533.0 C1475.0,530.9 1477.0,528.8 1479.0,526.7 C1481.0,524.6 1483.0,522.6 1485.0,520.5 C1487.0,518.5 1489.0,516.5 1491.0,514.5 C1493.0,512.5 1495.0,510.5 1497.0,508.6 C1499.0,506.6 1501.0,504.7 1503.0,502.8 C1505.0,500.9 1507.0,499.0 1509.0,497.2 C1511.0,495.3 1513.0,493.5 1515.0,491.7 C1517.0,489.9 1519.0,488.1 1521.0,486.3 C1523.0,484.5 1525.0,482.7 1527.0,481.0 C1529.0,479.2 1531.0,477.5 1533.0,475.8 C1535.0,474.1 1537.0,472.4 1539.0,470.7 C1541.0,469.1 1543.0,467.4 1545.0,465.8 C1547.0,464.1 1549.0,462.5 1551.0,460.9 C1553.0,459.3 1555.0,457.7 1557.0,456.1 C1559.0,454.5 1561.0,452.9 1563.0,451.4 C1565.0,449.8 1567.0,448.3 1569.0,446.8 C1571.0,445.2 1573.0,443.7 1575.0,442.2 C1577.0,440.7 1579.0,439.2 1581.0,437.7 C1583.0,436.3 1585.0,434.8 1587.0,433.3 C1589.0,431.9 1591.0,430.4 1593.0,429.0 C1595.0,427.5 1597.0,426.1 1599.0,424.7 C1601.0,423.2 1603.0,421.8 1605.0,420.4 C1607.0,419.0 1609.0,417.6 1611.0,416.2 C1613.0,414.8 1615.0,413.5 1617.0,412.1 C1619.0,410.7 1621.0,409.3 1623.0,408.0 C1625.0,406.6 1627.0,405.2 1629.0,403.9 C1631.0,402.5 1633.0,401.2 1635.0,399.8 C1637.0,398.5 1639.0,397.1 1641.0,395.8 C1643.0,394.5 1645.0,393.1 1647.0,391.8 C1649.0,390.5 1651.0,389.2 1653.0,387.8 C1655.0,386.5 1657.0,385.2 1659.0,383.9 C1661.0,382.6 1663.0,381.3 1665.0,380.0 C1667.0,378.8 1669.0,377.5 1671.0,376.2 C1673.0,374.9 1675.0,373.7 1677.0,372.4 C1679.0,371.2 1681.0,369.9 1683.0,368.7 C1685.0,367.4 1687.0,366.2 1689.0,365.0 C1691.0,363.8 1693.0,362.5 1695.0,361.3 C1697.0,360.1 1699.0,358.9 1701.0,357.7 C1703.0,356.6 1705.0,355.4 1707.0,354.2 C1709.0,353.1 1711.0,351.9 1713.0,350.7 C1715.0,349.6 1717.0,348.5 1719.0,347.3 C1721.0,346.2 1723.0,345.1 1725.0,344.0 C1727.0,342.9 1729.0,341.8 1731.0,340.7 C1733.0,339.6 1735.0,338.6 1737.0,337.5 C1739.0,336.5 1741.0,335.4 1743.0,334.4 C1745.0,333.3 1747.0,332.3 1749.0,331.3 C1751.0,330.3 1753.0,329.3 1755.0,328.3 C1757.0,327.3 1759.0,326.4 1761.0,325.4 C1763.0,324.5 1765.0,323.5 1767.0,322.6 C1769.0,321.7 1771.0,320.8 1773.0,319.9 C1775.0,319.0 1777.0,318.1 1779.0,317.2 C1781.0,316.3 1783.0,315.5 1785.0,314.7 C1787.0,313.8 1789.0,313.0 1791.0,312.2 C1793.0,311.4 1795.0,310.6 1797.0,309.8 C1799.0,309.0 1801.0,308.3 1803.0,307.5 C1805.0,306.8 1807.0,306.1 1809.0,305.4 C1811.0,304.6 1813.0,304.0 1815.0,303.3 C1817.0,302.6 1819.0,301.9 1821.0,301.3 C1823.0,300.7 1825.0,300.0 1827.0,299.4 C1829.0,298.8 1831.0,298.2 1833.0,297.7 C1835.0,297.1 1837.0,296.6 1839.0,296.0 C1841.0,295.5 1843.0,295.0 1845.0,294.5 C1847.0,294.0 1849.0,293.5 1851.0,293.1 C1853.0,292.6 1855.0,292.2 1857.0,291.8 C1859.0,291.4 1861.0,291.0 1863.0,290.6 C1865.0,290.2 1867.0,289.9 1869.0,289.6 C1871.0,289.2 1873.0,288.9 1875.0,288.6 C1877.0,288.4 1879.0,288.1 1881.0,287.9 C1883.0,287.6 1885.0,287.4 1887.0,287.2 C1889.0,287.0 1891.0,286.8 1893.0,286.7 C1895.0,286.5 1897.0,286.4 1899.0,286.3 C1901.0,286.2 1904.0,286.1 1905.0,286.0" stroke="#ff40a8" stroke-width="8"/>
<path d="M345.0,190.6 C346.0,190.6 349.0,190.7 351.0,190.9 C353.0,191.0 355.0,191.3 357.0,191.6 C359.0,191.9 361.0,192.3 363.0,192.7 C365.0,193.1 367.0,193.6 369.0,194.1 C371.0,194.7 373.0,195.3 375.0,195.9 C377.0,196.6 379.0,197.3 381.0,198.0 C383.0,198.8 385.0,199.6 387.0,200.4 C389.0,201.3 391.0,202.1 393.0,203.1 C395.0,204.0 397.0,204.9 399.0,205.9 C401.0,206.9 403.0,207.9 405.0,209.0 C407.0,210.0 409.0,211.1 411.0,212.2 C413.0,213.3 415.0,214.4 417.0,215.6 C419.0,216.7 421.0,217.9 423.0,219.1 C425.0,220.3 427.0,221.4 429.0,222.6 C431.0,223.8 433.0,225.1 435.0,226.3 C437.0,227.5 439.0,228.7 441.0,230.0 C443.0,231.2 445.0,232.4 447.0,233.7 C449.0,234.9 451.0,236.2 453.0,237.4 C455.0,238.7 457.0,240.0 459.0,241.2 C461.0,242.5 463.0,243.8 465.0,245.1 C467.0,246.4 469.0,247.7 471.0,249.0 C473.0,250.3 475.0,251.6 477.0,253.0 C479.0,254.3 481.0,255.6 483.0,257.0 C485.0,258.3 487.0,259.7 489.0,261.0 C491.0,262.4 493.0,263.8 495.0,265.2 C497.0,266.6 499.0,268.0 501.0,269.4 C503.0,270.8 505.0,272.2 507.0,273.7 C509.0,275.1 511.0,276.6 513.0,278.0 C515.0,279.5 517.0,280.9 519.0,282.4 C521.0,283.9 523.0,285.4 525.0,286.9 C527.0,288.4 529.0,290.0 531.0,291.5 C533.0,293.0 535.0,294.6 537.0,296.2 C539.0,297.7 541.0,299.3 543.0,300.9 C545.0,302.5 547.0,304.1 549.0,305.7 C551.0,307.3 553.0,309.0 555.0,310.6 C557.0,312.3 559.0,314.0 561.0,315.6 C563.0,317.3 565.0,319.0 567.0,320.7 C569.0,322.5 571.0,324.2 573.0,325.9 C575.0,327.7 577.0,329.4 579.0,331.2 C581.0,333.0 583.0,334.8 585.0,336.6 C587.0,338.4 589.0,340.2 591.0,342.1 C593.0,343.9 595.0,345.8 597.0,347.7 C599.0,349.6 601.0,351.5 603.0,353.4 C605.0,355.3 607.0,357.2 609.0,359.2 C611.0,361.2 613.0,363.1 615.0,365.1 C617.0,367.1 619.0,369.1 621.0,371.2 C623.0,373.2 625.0,375.2 627.0,377.3 C629.0,379.4 631.0,381.5 633.0,383.6 C635.0,385.7 637.0,387.8 639.0,390.0 C641.0,392.1 643.0,394.3 645.0,396.5 C647.0,398.7 649.0,400.9 651.0,403.1 C653.0,405.3 655.0,407.6 657.0,409.9 C659.0,412.1 661.0,414.4 663.0,416.7 C665.0,419.0 667.0,421.3 669.0,423.7 C671.0,426.0 673.0,428.4 675.0,430.7 C677.0,433.1 679.0,435.5 681.0,437.9 C683.0,440.3 685.0,442.7 687.0,445.1 C689.0,447.6 691.0,450.0 693.0,452.5 C695.0,454.9 697.0,457.4 699.0,459.9 C701.0,462.3 703.0,464.8 705.0,467.3 C707.0,469.8 709.0,472.4 711.0,474.9 C713.0,477.4 715.0,480.0 717.0,482.5 C719.0,485.0 721.0,487.6 723.0,490.2 C725.0,492.7 727.0,495.3 729.0,497.9 C731.0,500.5 733.0,503.1 735.0,505.7 C737.0,508.3 739.0,510.9 741.0,513.5 C743.0,516.1 745.0,518.7 747.0,521.3 C749.0,524.0 751.0,526.6 753.0,529.2 C755.0,531.9 757.0,534.5 759.0,537.2 C761.0,539.8 763.0,542.5 765.0,545.1 C767.0,547.8 769.0,550.4 771.0,553.1 C773.0,555.7 775.0,558.4 777.0,561.0 C779.0,563.7 781.0,566.4 783.0,569.0 C785.0,571.7 787.0,574.4 789.0,577.0 C791.0,579.7 793.0,582.4 795.0,585.1 C797.0,587.7 799.0,590.4 801.0,593.1 C803.0,595.8 805.0,598.4 807.0,601.1 C809.0,603.8 811.0,606.5 813.0,609.2 C815.0,611.8 817.0,614.5 819.0,617.2 C821.0,619.9 823.0,622.5 825.0,625.2 C827.0,627.8 829.0,630.5 831.0,633.0 C833.0,635.6 835.0,638.2 837.0,640.6 C839.0,643.1 841.0,645.6 843.0,647.9 C845.0,650.2 847.0,652.5 849.0,654.7 C851.0,656.9 853.0,659.0 855.0,660.9 C857.0,662.9 859.0,664.8 861.0,666.5 C863.0,668.3 865.0,669.9 867.0,671.4 C869.0,673.0 871.0,674.4 873.0,675.7 C875.0,677.0 877.0,678.2 879.0,679.3 C881.0,680.3 883.0,681.3 885.0,682.1 C887.0,683.0 889.0,683.7 891.0,684.3 C893.0,684.9 895.0,685.4 897.0,685.8 C899.0,686.2 901.0,686.5 903.0,686.6 C905.0,686.7 907.0,686.8 909.0,686.7 C911.0,686.6 913.0,686.4 915.0,686.0 C917.0,685.7 919.0,685.2 921.0,684.6 C923.0,684.1 925.0,683.4 927.0,682.5 C929.0,681.7 931.0,680.7 933.0,679.7 C935.0,678.6 937.0,677.4 939.0,676.1 C941.0,674.8 943.0,673.4 945.0,671.8 C947.0,670.3 949.0,668.7 951.0,667.0 C953.0,665.3 955.0,663.5 957.0,661.6 C959.0,659.7 961.0,657.7 963.0,655.7 C965.0,653.7 967.0,651.5 969.0,649.4 C971.0,647.2 973.0,645.0 975.0,642.7 C977.0,640.4 979.0,638.0 981.0,635.7 C983.0,633.3 985.0,630.9 987.0,628.4 C989.0,626.0 991.0,623.5 993.0,621.0 C995.0,618.5 997.0,615.9 999.0,613.4 C1001.0,610.9 1003.0,608.3 1005.0,605.7 C1007.0,603.2 1009.0,600.6 1011.0,598.1 C1013.0,595.5 1015.0,592.9 1017.0,590.3 C1019.0,587.8 1021.0,585.2 1023.0,582.6 C1025.0,580.0 1027.0,577.5 1029.0,574.9 C1031.0,572.3 1033.0,569.7 1035.0,567.1 C1037.0,564.5 1039.0,562.0 1041.0,559.4 C1043.0,556.8 1045.0,554.2 1047.0,551.7 C1049.0,549.1 1051.0,546.5 1053.0,544.0 C1055.0,541.4 1057.0,538.9 1059.0,536.3 C1061.0,533.8 1063.0,531.2 1065.0,528.7 C1067.0,526.2 1069.0,523.6 1071.0,521.1 C1073.0,518.6 1075.0,516.1 1077.0,513.6 C1079.0,511.1 1081.0,508.7 1083.0,506.2 C1085.0,503.7 1087.0,501.3 1089.0,498.8 C1091.0,496.4 1093.0,494.0 1095.0,491.6 C1097.0,489.2 1099.0,486.8 1101.0,484.4 C1103.0,482.0 1105.0,479.7 1107.0,477.4 C1109.0,475.0 1111.0,472.7 1113.0,470.4 C1115.0,468.1 1117.0,465.8 1119.0,463.6 C1121.0,461.3 1123.0,459.1 1125.0,456.9 C1127.0,454.7 1129.0,452.5 1131.0,450.4 C1133.0,448.2 1135.0,446.1 1137.0,444.0 C1139.0,441.9 1141.0,439.8 1143.0,437.7 C1145.0,435.7 1147.0,433.6 1149.0,431.6 C1151.0,429.6 1153.0,427.6 1155.0,425.6 C1157.0,423.6 1159.0,421.7 1161.0,419.7 C1163.0,417.8 1165.0,415.9 1167.0,414.0 C1169.0,412.1 1171.0,410.2 1173.0,408.3 C1175.0,406.4 1177.0,404.6 1179.0,402.7 C1181.0,400.9 1183.0,399.1 1185.0,397.3 C1187.0,395.4 1189.0,393.6 1191.0,391.9 C1193.0,390.1 1195.0,388.3 1197.0,386.5 C1199.0,384.7 1201.0,383.0 1203.0,381.2 C1205.0,379.5 1207.0,377.7 1209.0,376.0 C1211.0,374.3 1213.0,372.5 1215.0,370.8 C1217.0,369.1 1219.0,367.4 1221.0,365.7 C1223.0,364.0 1225.0,362.3 1227.0,360.7 C1229.0,359.0 1231.0,357.3 1233.0,355.7 C1235.0,354.0 1237.0,352.4 1239.0,350.8 C1241.0,349.2 1243.0,347.6 1245.0,346.0 C1247.0,344.4 1249.0,342.8 1251.0,341.3 C1253.0,339.8 1255.0,338.2 1257.0,336.7 C1259.0,335.2 1261.0,333.7 1263.0,332.2 C1265.0,330.8 1267.0,329.3 1269.0,327.9 C1271.0,326.4 1273.0,325.0 1275.0,323.7 C1277.0,322.3 1279.0,320.9 1281.0,319.6 C1283.0,318.2 1285.0,316.9 1287.0,315.6 C1289.0,314.3 1291.0,313.1 1293.0,311.8 C1295.0,310.6 1297.0,309.4 1299.0,308.2 C1301.0,307.0 1303.0,305.8 1305.0,304.6 C1307.0,303.5 1309.0,302.3 1311.0,301.2 C1313.0,300.1 1315.0,299.0 1317.0,297.9 C1319.0,296.8 1321.0,295.7 1323.0,294.7 C1325.0,293.6 1327.0,292.6 1329.0,291.6 C1331.0,290.6 1333.0,289.6 1335.0,288.6 C1337.0,287.6 1339.0,286.7 1341.0,285.7 C1343.0,284.8 1345.0,283.8 1347.0,282.9 C1349.0,282.0 1351.0,281.1 1353.0,280.2 C1355.0,279.3 1357.0,278.4 1359.0,277.5 C1361.0,276.7 1363.0,275.8 1365.0,275.0 C1367.0,274.1 1369.0,273.3 1371.0,272.5 C1373.0,271.7 1375.0,270.9 1377.0,270.1 C1379.0,269.3 1381.0,268.5 1383.0,267.7 C1385.0,266.9 1387.0,266.1 1389.0,265.4 C1391.0,264.6 1393.0,263.8 1395.0,263.1 C1397.0,262.3 1399.0,261.6 1401.0,260.9 C1403.0,260.1 1405.0,259.4 1407.0,258.7 C1409.0,257.9 1411.0,257.2 1413.0,256.5 C1415.0,255.8 1417.0,255.1 1419.0,254.4 C1421.0,253.7 1423.0,253.0 1425.0,252.3 C1427.0,251.6 1429.0,250.9 1431.0,250.2 C1433.0,249.5 1435.0,248.8 1437.0,248.1 C1439.0,247.4 1441.0,246.7 1443.0,246.0 C1445.0,245.3 1447.0,244.6 1449.0,243.9 C1451.0,243.3 1453.0,242.6 1455.0,241.9 C1457.0,241.2 1459.0,240.5 1461.0,239.8 C1463.0,239.1 1465.0,238.3 1467.0,237.6 C1469.0,236.9 1471.0,236.2 1473.0,235.5 C1475.0,234.8 1477.0,234.0 1479.0,233.3 C1481.0,232.6 1483.0,231.9 1485.0,231.2 C1487.0,230.5 1489.0,229.8 1491.0,229.1 C1493.0,228.5 1495.0,227.8 1497.0,227.2 C1499.0,226.5 1501.0,225.9 1503.0,225.3 C1505.0,224.7 1507.0,224.1 1509.0,223.6 C1511.0,223.1 1513.0,222.5 1515.0,222.0 C1517.0,221.6 1519.0,221.1 1521.0,220.6 C1523.0,220.2 1525.0,219.8 1527.0,219.4 C1529.0,218.9 1531.0,218.6 1533.0,218.2 C1535.0,217.8 1537.0,217.4 1539.0,217.0 C1541.0,216.7 1543.0,216.3 1545.0,215.9 C1547.0,215.6 1549.0,215.2 1551.0,214.9 C1553.0,214.5 1555.0,214.1 1557.0,213.8 C1559.0,213.4 1561.0,213.1 1563.0,212.7 C1565.0,212.3 1567.0,212.0 1569.0,211.6 C1571.0,211.3 1573.0,210.9 1575.0,210.6 C1577.0,210.2 1579.0,209.8 1581.0,209.5 C1583.0,209.1 1585.0,208.8 1587.0,208.4 C1589.0,208.1 1591.0,207.7 1593.0,207.4 C1595.0,207.0 1597.0,206.7 1599.0,206.4 C1601.0,206.0 1603.0,205.7 1605.0,205.3 C1607.0,205.0 1609.0,204.7 1611.0,204.4 C1613.0,204.0 1615.0,203.7 1617.0,203.4 C1619.0,203.1 1621.0,202.8 1623.0,202.5 C1625.0,202.1 1627.0,201.8 1629.0,201.5 C1631.0,201.2 1633.0,201.0 1635.0,200.7 C1637.0,200.4 1639.0,200.1 1641.0,199.8 C1643.0,199.6 1645.0,199.3 1647.0,199.0 C1649.0,198.8 1651.0,198.5 1653.0,198.3 C1655.0,198.0 1657.0,197.8 1659.0,197.6 C1661.0,197.3 1663.0,197.1 1665.0,196.9 C1667.0,196.7 1669.0,196.5 1671.0,196.3 C1673.0,196.1 1675.0,195.9 1677.0,195.7 C1679.0,195.5 1681.0,195.3 1683.0,195.2 C1685.0,195.0 1687.0,194.8 1689.0,194.7 C1691.0,194.5 1693.0,194.4 1695.0,194.2 C1697.0,194.1 1699.0,194.0 1701.0,193.8 C1703.0,193.7 1705.0,193.6 1707.0,193.5 C1709.0,193.4 1711.0,193.3 1713.0,193.2 C1715.0,193.1 1717.0,193.0 1719.0,192.9 C1721.0,192.9 1723.0,192.8 1725.0,192.7 C1727.0,192.7 1729.0,192.6 1731.0,192.6 C1733.0,192.5 1735.0,192.5 1737.0,192.4 C1739.0,192.4 1741.0,192.4 1743.0,192.4 C1745.0,192.3 1747.0,192.3 1749.0,192.3 C1751.0,192.3 1753.0,192.3 1755.0,192.3 C1757.0,192.3 1759.0,192.3 1761.0,192.4 C1763.0,192.4 1765.0,192.4 1767.0,192.5 C1769.0,192.5 1771.0,192.5 1773.0,192.6 C1775.0,192.6 1777.0,192.7 1779.0,192.7 C1781.0,192.8 1783.0,192.9 1785.0,192.9 C1787.0,193.0 1789.0,193.1 1791.0,193.2 C1793.0,193.3 1795.0,193.4 1797.0,193.5 C1799.0,193.6 1801.0,193.7 1803.0,193.8 C1805.0,193.9 1807.0,194.0 1809.0,194.2 C1811.0,194.3 1813.0,194.4 1815.0,194.6 C1817.0,194.7 1819.0,194.9 1821.0,195.0 C1823.0,195.2 1825.0,195.3 1827.0,195.5 C1829.0,195.6 1831.0,195.8 1833.0,196.0 C1835.0,196.2 1837.0,196.4 1839.0,196.5 C1841.0,196.7 1843.0,196.9 1845.0,197.1 C1847.0,197.3 1849.0,197.5 1851.0,197.8 C1853.0,198.0 1855.0,198.2 1857.0,198.4 C1859.0,198.6 1861.0,198.9 1863.0,199.1 C1865.0,199.3 1867.0,199.6 1869.0,199.8 C1871.0,200.1 1873.0,200.3 1875.0,200.6 C1877.0,200.8 1879.0,201.1 1881.0,201.4 C1883.0,201.7 1885.0,201.9 1887.0,202.2 C1889.0,202.5 1891.0,202.8 1893.0,203.1 C1895.0,203.4 1897.0,203.7 1899.0,204.0 C1901.0,204.3 1904.0,204.7 1905.0,204.9" stroke="#a0005c" stroke-width="8"/>
<path d="M345.0,325.7 C346.0,326.3 349.0,328.2 351.0,329.5 C353.0,330.8 355.0,332.1 357.0,333.5 C359.0,334.9 361.0,336.3 363.0,337.8 C365.0,339.3 367.0,340.9 369.0,342.4 C371.0,344.0 373.0,345.6 375.0,347.3 C377.0,348.9 379.0,350.6 381.0,352.4 C383.0,354.1 385.0,355.9 387.0,357.7 C389.0,359.5 391.0,361.4 393.0,363.2 C395.0,365.1 397.0,367.1 399.0,369.0 C401.0,371.0 403.0,372.9 405.0,375.0 C407.0,377.0 409.0,379.0 411.0,381.1 C413.0,383.2 415.0,385.3 417.0,387.4 C419.0,389.6 421.0,391.7 423.0,393.9 C425.0,396.1 427.0,398.3 429.0,400.5 C431.0,402.8 433.0,405.0 435.0,407.3 C437.0,409.6 439.0,411.9 441.0,414.2 C443.0,416.5 445.0,418.9 447.0,421.2 C449.0,423.6 451.0,426.0 453.0,428.4 C455.0,430.8 457.0,433.2 459.0,435.6 C461.0,438.0 463.0,440.4 465.0,442.9 C467.0,445.3 469.0,447.8 471.0,450.2 C473.0,452.7 475.0,455.2 477.0,457.7 C479.0,460.1 481.0,462.6 483.0,465.1 C485.0,467.6 487.0,470.1 489.0,472.6 C491.0,475.1 493.0,477.7 495.0,480.2 C497.0,482.7 499.0,485.2 501.0,487.7 C503.0,490.2 505.0,492.7 507.0,495.2 C509.0,497.7 511.0,500.3 513.0,502.8 C515.0,505.3 517.0,507.8 519.0,510.3 C521.0,512.7 523.0,515.2 525.0,517.7 C527.0,520.2 529.0,522.7 531.0,525.1 C533.0,527.6 535.0,530.0 537.0,532.5 C539.0,534.9 541.0,537.3 543.0,539.8 C545.0,542.2 547.0,544.5 549.0,546.9 C551.0,549.3 553.0,551.6 555.0,554.0 C557.0,556.3 559.0,558.6 561.0,560.8 C563.0,563.1 565.0,565.4 567.0,567.6 C569.0,569.8 571.0,571.9 573.0,574.1 C575.0,576.2 577.0,578.3 579.0,580.4 C581.0,582.4 583.0,584.5 585.0,586.4 C587.0,588.4 589.0,590.4 591.0,592.2 C593.0,594.1 595.0,596.0 597.0,597.8 C599.0,599.5 601.0,601.3 603.0,603.0 C605.0,604.6 607.0,606.3 609.0,607.8 C611.0,609.4 613.0,610.9 615.0,612.3 C617.0,613.8 619.0,615.2 621.0,616.5 C623.0,617.8 625.0,619.1 627.0,620.2 C629.0,621.4 631.0,622.5 633.0,623.5 C635.0,624.6 637.0,625.5 639.0,626.4 C641.0,627.3 643.0,628.1 645.0,628.8 C647.0,629.5 649.0,630.2 651.0,630.7 C653.0,631.3 655.0,631.8 657.0,632.1 C659.0,632.5 661.0,632.8 663.0,633.0 C665.0,633.2 667.0,633.3 669.0,633.3 C671.0,633.3 673.0,633.2 675.0,633.0 C677.0,632.9 679.0,632.6 681.0,632.2 C683.0,631.8 685.0,631.3 687.0,630.7 C689.0,630.1 691.0,629.3 693.0,628.5 C695.0,627.7 697.0,626.7 699.0,625.7 C701.0,624.6 703.0,623.5 705.0,622.2 C707.0,620.9 709.0,619.6 711.0,618.1 C713.0,616.6 715.0,615.0 717.0,613.4 C719.0,611.7 721.0,610.0 723.0,608.2 C725.0,606.4 727.0,604.4 729.0,602.5 C731.0,600.5 733.0,598.4 735.0,596.3 C737.0,594.2 739.0,592.0 741.0,589.8 C743.0,587.6 745.0,585.3 747.0,583.0 C749.0,580.6 751.0,578.2 753.0,575.8 C755.0,573.4 757.0,570.9 759.0,568.4 C761.0,565.9 763.0,563.4 765.0,560.8 C767.0,558.3 769.0,555.7 771.0,553.1 C773.0,550.5 775.0,547.9 777.0,545.3 C779.0,542.7 781.0,540.0 783.0,537.4 C785.0,534.8 787.0,532.1 789.0,529.5 C791.0,526.9 793.0,524.3 795.0,521.7 C797.0,519.1 799.0,516.5 801.0,513.9 C803.0,511.4 805.0,508.8 807.0,506.3 C809.0,503.8 811.0,501.3 813.0,498.9 C815.0,496.4 817.0,494.0 819.0,491.7 C821.0,489.3 823.0,487.0 825.0,484.7 C827.0,482.5 829.0,480.2 831.0,478.0 C833.0,475.8 835.0,473.6 837.0,471.5 C839.0,469.4 841.0,467.3 843.0,465.2 C845.0,463.1 847.0,461.0 849.0,459.0 C851.0,457.0 853.0,455.0 855.0,453.0 C857.0,451.0 859.0,449.0 861.0,447.1 C863.0,445.1 865.0,443.2 867.0,441.2 C869.0,439.3 871.0,437.4 873.0,435.5 C875.0,433.6 877.0,431.7 879.0,429.8 C881.0,427.9 883.0,426.0 885.0,424.1 C887.0,422.2 889.0,420.3 891.0,418.4 C893.0,416.5 895.0,414.6 897.0,412.7 C899.0,410.7 901.0,408.8 903.0,406.9 C905.0,405.0 907.0,403.0 909.0,401.1 C911.0,399.1 913.0,397.2 915.0,395.2 C917.0,393.3 919.0,391.3 921.0,389.3 C923.0,387.4 925.0,385.4 927.0,383.5 C929.0,381.5 931.0,379.5 933.0,377.6 C935.0,375.6 937.0,373.7 939.0,371.8 C941.0,369.8 943.0,367.9 945.0,366.0 C947.0,364.0 949.0,362.1 951.0,360.2 C953.0,358.3 955.0,356.5 957.0,354.6 C959.0,352.7 961.0,350.9 963.0,349.0 C965.0,347.2 967.0,345.4 969.0,343.6 C971.0,341.8 973.0,340.0 975.0,338.3 C977.0,336.5 979.0,334.8 981.0,333.1 C983.0,331.4 985.0,329.7 987.0,328.1 C989.0,326.4 991.0,324.8 993.0,323.2 C995.0,321.6 997.0,320.1 999.0,318.5 C1001.0,317.0 1003.0,315.5 1005.0,314.1 C1007.0,312.6 1009.0,311.2 1011.0,309.9 C1013.0,308.5 1015.0,307.2 1017.0,305.9 C1019.0,304.6 1021.0,303.3 1023.0,302.1 C1025.0,300.9 1027.0,299.7 1029.0,298.5 C1031.0,297.3 1033.0,296.2 1035.0,295.1 C1037.0,293.9 1039.0,292.8 1041.0,291.7 C1043.0,290.6 1045.0,289.5 1047.0,288.4 C1049.0,287.3 1051.0,286.2 1053.0,285.1 C1055.0,283.9 1057.0,282.8 1059.0,281.7 C1061.0,280.5 1063.0,279.4 1065.0,278.2 C1067.0,277.0 1069.0,275.8 1071.0,274.5 C1073.0,273.3 1075.0,272.0 1077.0,270.7 C1079.0,269.4 1081.0,268.0 1083.0,266.6 C1085.0,265.2 1087.0,263.8 1089.0,262.3 C1091.0,260.8 1093.0,259.2 1095.0,257.6 C1097.0,256.0 1099.0,254.3 1101.0,252.6 C1103.0,251.0 1105.0,249.3 1107.0,247.7 C1109.0,246.0 1111.0,244.4 1113.0,242.8 C1115.0,241.3 1117.0,239.8 1119.0,238.4 C1121.0,237.0 1123.0,235.6 1125.0,234.5 C1127.0,233.3 1129.0,232.2 1131.0,231.3 C1133.0,230.4 1135.0,229.7 1137.0,229.0 C1139.0,228.3 1141.0,227.8 1143.0,227.4 C1145.0,226.9 1147.0,226.5 1149.0,226.1 C1151.0,225.7 1153.0,225.4 1155.0,225.0 C1157.0,224.6 1159.0,224.3 1161.0,223.8 C1163.0,223.4 1165.0,222.9 1167.0,222.2 C1169.0,221.6 1171.0,220.9 1173.0,220.1 C1175.0,219.4 1177.0,218.5 1179.0,217.6 C1181.0,216.7 1183.0,215.7 1185.0,214.7 C1187.0,213.8 1189.0,212.8 1191.0,211.8 C1193.0,210.8 1195.0,209.8 1197.0,208.8 C1199.0,207.8 1201.0,206.8 1203.0,205.9 C1205.0,205.0 1207.0,204.2 1209.0,203.3 C1211.0,202.5 1213.0,201.7 1215.0,201.0 C1217.0,200.2 1219.0,199.5 1221.0,198.8 C1223.0,198.1 1225.0,197.5 1227.0,196.8 C1229.0,196.2 1231.0,195.6 1233.0,195.0 C1235.0,194.4 1237.0,193.8 1239.0,193.2 C1241.0,192.7 1243.0,192.1 1245.0,191.6 C1247.0,191.1 1249.0,190.5 1251.0,190.0 C1253.0,189.5 1255.0,189.0 1257.0,188.5 C1259.0,187.9 1261.0,187.4 1263.0,186.9 C1265.0,186.4 1267.0,185.9 1269.0,185.3 C1271.0,184.8 1273.0,184.3 1275.0,183.7 C1277.0,183.1 1279.0,182.6 1281.0,182.0 C1283.0,181.4 1285.0,180.8 1287.0,180.2 C1289.0,179.6 1291.0,179.0 1293.0,178.4 C1295.0,177.8 1297.0,177.2 1299.0,176.6 C1301.0,176.0 1303.0,175.4 1305.0,174.8 C1307.0,174.3 1309.0,173.7 1311.0,173.2 C1313.0,172.7 1315.0,172.2 1317.0,171.7 C1319.0,171.2 1321.0,170.8 1323.0,170.4 C1325.0,170.0 1327.0,169.6 1329.0,169.3 C1331.0,168.9 1333.0,168.6 1335.0,168.3 C1337.0,168.0 1339.0,167.7 1341.0,167.4 C1343.0,167.1 1345.0,166.8 1347.0,166.6 C1349.0,166.3 1351.0,166.1 1353.0,165.9 C1355.0,165.6 1357.0,165.4 1359.0,165.2 C1361.0,165.0 1363.0,164.7 1365.0,164.5 C1367.0,164.3 1369.0,164.1 1371.0,163.9 C1373.0,163.7 1375.0,163.4 1377.0,163.2 C1379.0,163.0 1381.0,162.8 1383.0,162.5 C1385.0,162.3 1387.0,162.0 1389.0,161.7 C1391.0,161.5 1393.0,161.2 1395.0,160.9 C1397.0,160.6 1399.0,160.3 1401.0,160.0 C1403.0,159.6 1405.0,159.3 1407.0,158.9 C1409.0,158.5 1411.0,158.1 1413.0,157.7 C1415.0,157.3 1417.0,156.9 1419.0,156.5 C1421.0,156.0 1423.0,155.6 1425.0,155.3 C1427.0,154.9 1429.0,154.5 1431.0,154.2 C1433.0,153.9 1435.0,153.6 1437.0,153.3 C1439.0,153.1 1441.0,152.9 1443.0,152.8 C1445.0,152.6 1447.0,152.6 1449.0,152.6 C1451.0,152.6 1453.0,152.7 1455.0,152.8 C1457.0,152.9 1459.0,153.0 1461.0,153.2 C1463.0,153.4 1465.0,153.6 1467.0,153.7 C1469.0,153.9 1471.0,154.1 1473.0,154.2 C1475.0,154.4 1477.0,154.5 1479.0,154.5 C1481.0,154.6 1483.0,154.6 1485.0,154.5 C1487.0,154.4 1489.0,154.3 1491.0,154.1 C1493.0,153.9 1495.0,153.7 1497.0,153.4 C1499.0,153.2 1501.0,152.9 1503.0,152.6 C1505.0,152.3 1507.0,152.0 1509.0,151.8 C1511.0,151.5 1513.0,151.2 1515.0,151.0 C1517.0,150.7 1519.0,150.5 1521.0,150.4 C1523.0,150.2 1525.0,150.1 1527.0,150.0 C1529.0,149.9 1531.0,149.9 1533.0,149.8 C1535.0,149.8 1537.0,149.8 1539.0,149.9 C1541.0,149.9 1543.0,150.0 1545.0,150.1 C1547.0,150.2 1549.0,150.4 1551.0,150.5 C1553.0,150.7 1555.0,150.9 1557.0,151.1 C1559.0,151.3 1561.0,151.5 1563.0,151.7 C1565.0,152.0 1567.0,152.3 1569.0,152.5 C1571.0,152.8 1573.0,153.1 1575.0,153.4 C1577.0,153.7 1579.0,154.0 1581.0,154.3 C1583.0,154.7 1585.0,155.0 1587.0,155.3 C1589.0,155.7 1591.0,156.0 1593.0,156.4 C1595.0,156.7 1597.0,157.0 1599.0,157.4 C1601.0,157.7 1603.0,158.1 1605.0,158.4 C1607.0,158.8 1609.0,159.1 1611.0,159.4 C1613.0,159.8 1615.0,160.1 1617.0,160.4 C1619.0,160.7 1621.0,161.0 1623.0,161.4 C1625.0,161.7 1627.0,162.0 1629.0,162.3 C1631.0,162.6 1633.0,162.9 1635.0,163.2 C1637.0,163.5 1639.0,163.8 1641.0,164.0 C1643.0,164.3 1645.0,164.6 1647.0,164.9 C1649.0,165.2 1651.0,165.5 1653.0,165.8 C1655.0,166.1 1657.0,166.4 1659.0,166.7 C1661.0,167.0 1663.0,167.3 1665.0,167.6 C1667.0,167.9 1669.0,168.2 1671.0,168.5 C1673.0,168.8 1675.0,169.1 1677.0,169.4 C1679.0,169.7 1681.0,170.0 1683.0,170.4 C1685.0,170.7 1687.0,171.0 1689.0,171.3 C1691.0,171.7 1693.0,172.0 1695.0,172.4 C1697.0,172.7 1699.0,173.1 1701.0,173.5 C1703.0,173.8 1705.0,174.2 1707.0,174.6 C1709.0,175.0 1711.0,175.4 1713.0,175.8 C1715.0,176.2 1717.0,176.6 1719.0,177.1 C1721.0,177.5 1723.0,178.0 1725.0,178.4 C1727.0,178.9 1729.0,179.3 1731.0,179.8 C1733.0,180.3 1735.0,180.8 1737.0,181.3 C1739.0,181.8 1741.0,182.3 1743.0,182.9 C1745.0,183.4 1747.0,184.0 1749.0,184.5 C1751.0,185.1 1753.0,185.6 1755.0,186.2 C1757.0,186.8 1759.0,187.4 1761.0,188.0 C1763.0,188.5 1765.0,189.2 1767.0,189.8 C1769.0,190.4 1771.0,191.0 1773.0,191.6 C1775.0,192.3 1777.0,192.9 1779.0,193.6 C1781.0,194.2 1783.0,194.9 1785.0,195.6 C1787.0,196.2 1789.0,196.9 1791.0,197.6 C1793.0,198.3 1795.0,199.0 1797.0,199.7 C1799.0,200.4 1801.0,201.1 1803.0,201.8 C1805.0,202.5 1807.0,203.2 1809.0,203.9 C1811.0,204.7 1813.0,205.4 1815.0,206.2 C1817.0,206.9 1819.0,207.6 1821.0,208.4 C1823.0,209.1 1825.0,209.9 1827.0,210.7 C1829.0,211.4 1831.0,212.2 1833.0,213.0 C1835.0,213.7 1837.0,214.5 1839.0,215.3 C1841.0,216.1 1843.0,216.9 1845.0,217.7 C1847.0,218.5 1849.0,219.3 1851.0,220.1 C1853.0,220.9 1855.0,221.7 1857.0,222.5 C1859.0,223.3 1861.0,224.1 1863.0,224.9 C1865.0,225.7 1867.0,226.5 1869.0,227.3 C1871.0,228.1 1873.0,229.0 1875.0,229.8 C1877.0,230.6 1879.0,231.4 1881.0,232.2 C1883.0,233.1 1885.0,233.9 1887.0,234.7 C1889.0,235.5 1891.0,236.4 1893.0,237.2 C1895.0,238.0 1897.0,238.9 1899.0,239.7 C1901.0,240.5 1904.0,241.7 1905.0,242.2" stroke="#6c0440" stroke-width="8"/>
</g>
<g stroke="#000" fill="none">
<rect x="348.3" y="63.5" width="1551.7" height="1157.5" stroke-width="6"/>
<line x1="322" y1="171.0" x2="348" y2="171.0" stroke-width="5"/>
<line x1="322" y1="382.0" x2="348" y2="382.0" stroke-width="5"/>
<line x1="322" y1="593.0" x2="348" y2="593.0" stroke-width="5"/>
<line x1="322" y1="804.0" x2="348" y2="804.0" stroke-width="5"/>
<line x1="322" y1="1015.0" x2="348" y2="1015.0" stroke-width="5"/>
<line x1="335" y1="64.5" x2="348" y2="64.5" stroke-width="5"/>
<line x1="335" y1="276.5" x2="348" y2="276.5" stroke-width="5"/>
<line x1="335" y1="487.5" x2="348" y2="487.5" stroke-width="5"/>
<line x1="335" y1="698.5" x2="348" y2="698.5" stroke-width="5"/>
<line x1="335" y1="909.5" x2="348" y2="909.5" stroke-width="5"/>
<line x1="335" y1="1120.5" x2="348" y2="1120.5" stroke-width="5"/>
<line x1="602.2" y1="1221" x2="602.2" y2="1245" stroke-width="5"/>
<line x1="992.8" y1="1221" x2="992.8" y2="1245" stroke-width="5"/>
<line x1="1383.4" y1="1221" x2="1383.4" y2="1245" stroke-width="5"/>
<line x1="1774.0" y1="1221" x2="1774.0" y2="1245" stroke-width="5"/>
<line x1="406.9" y1="1221" x2="406.9" y2="1233.5" stroke-width="5"/>
<line x1="797.5" y1="1221" x2="797.5" y2="1233.5" stroke-width="5"/>
<line x1="1188.1" y1="1221" x2="1188.1" y2="1233.5" stroke-width="5"/>
<line x1="1578.7" y1="1221" x2="1578.7" y2="1233.5" stroke-width="5"/>
</g>
<line x1="403.5" y1="850.5" x2="546.5" y2="850.5" stroke="#6c0440" stroke-width="8.5" stroke-linecap="round"/>
<line x1="403.5" y1="922.7" x2="546.5" y2="922.7" stroke="#a0005c" stroke-width="8.5" stroke-linecap="round"/>
<line x1="403.5" y1="994.9" x2="546.5" y2="994.9" stroke="#ff40a8" stroke-width="8.5" stroke-linecap="round"/>
<line x1="403.5" y1="1067.1" x2="546.5" y2="1067.1" stroke="#ff7ec4" stroke-width="8.5" stroke-linecap="round"/>
<line x1="403.5" y1="1139.3" x2="546.5" y2="1139.3" stroke="#ffb0da" stroke-width="8.5" stroke-linecap="round"/>
<g fill="#000">
<text x="402.1" y="797.1" font-family='"Liberation Sans", Arial, sans-serif' font-size="60.58" textLength="506.8" lengthAdjust="spacingAndGlyphs">Temperature (°C)</text>
<text x="562.4" y="872.0" text-anchor="start" font-family='"Liberation Sans", Arial, sans-serif' font-size="61.27" textLength="74.2" lengthAdjust="spacingAndGlyphs">20</text>
<text x="562.4" y="944.8" text-anchor="start" font-family='"Liberation Sans", Arial, sans-serif' font-size="61.27" textLength="74.2" lengthAdjust="spacingAndGlyphs">35</text>
<text x="562.4" y="1017.6" text-anchor="start" font-family='"Liberation Sans", Arial, sans-serif' font-size="61.27" textLength="74.2" lengthAdjust="spacingAndGlyphs">50</text>
<text x="562.4" y="1090.4" text-anchor="start" font-family='"Liberation Sans", Arial, sans-serif' font-size="61.27" textLength="74.2" lengthAdjust="spacingAndGlyphs">65</text>
<text x="562.4" y="1163.2" text-anchor="start" font-family='"Liberation Sans", Arial, sans-serif' font-size="61.27" textLength="74.2" lengthAdjust="spacingAndGlyphs">80</text>
<text x="306.3" y="188.5" text-anchor="end" font-family='"Liberation Sans", Arial, sans-serif' font-size="57.04" textLength="87.4" lengthAdjust="spacingAndGlyphs">-10</text>
<text x="306.3" y="399.5" text-anchor="end" font-family='"Liberation Sans", Arial, sans-serif' font-size="57.04" textLength="87.4" lengthAdjust="spacingAndGlyphs">-15</text>
<text x="306.3" y="610.5" text-anchor="end" font-family='"Liberation Sans", Arial, sans-serif' font-size="57.04" textLength="87.4" lengthAdjust="spacingAndGlyphs">-20</text>
<text x="306.3" y="821.5" text-anchor="end" font-family='"Liberation Sans", Arial, sans-serif' font-size="57.04" textLength="87.4" lengthAdjust="spacingAndGlyphs">-25</text>
<text x="306.3" y="1032.5" text-anchor="end" font-family='"Liberation Sans", Arial, sans-serif' font-size="57.04" textLength="87.4" lengthAdjust="spacingAndGlyphs">-30</text>
<text x="603.7" y="1301.7" text-anchor="middle" font-family='"Liberation Sans", Arial, sans-serif' font-size="53.10" textLength="131.7" lengthAdjust="spacingAndGlyphs">1568</text>
<text x="994.3" y="1301.7" text-anchor="middle" font-family='"Liberation Sans", Arial, sans-serif' font-size="53.10" textLength="131.7" lengthAdjust="spacingAndGlyphs">1570</text>
<text x="1384.9" y="1301.7" text-anchor="middle" font-family='"Liberation Sans", Arial, sans-serif' font-size="53.10" textLength="131.7" lengthAdjust="spacingAndGlyphs">1572</text>
<text x="1775.5" y="1301.7" text-anchor="middle" font-family='"Liberation Sans", Arial, sans-serif' font-size="53.10" textLength="131.7" lengthAdjust="spacingAndGlyphs">1574</text>
<text x="854.4" y="1377.0" font-family='"Liberation Sans", Arial, sans-serif' font-size="67.97" textLength="545.0" lengthAdjust="spacingAndGlyphs">Wavelength (nm)</text>
<text transform="translate(195.9,901.6) rotate(-90)" x="0" y="0" font-family='"Liberation Sans", Arial, sans-serif' font-size="66.23" textLength="530.0" lengthAdjust="spacingAndGlyphs">Transmission (dB)</text>
<text x="34.0" y="122.0" font-family='"Liberation Serif", "Times New Roman", serif' font-size="108.46" textLength="119.0" lengthAdjust="spacingAndGlyphs">(a)</text>
</g>
<g stroke="#000" fill="none">
<line x1="320" y1="1449" x2="1907" y2="1449" stroke-width="6"/>
<line x1="1904" y1="1446" x2="1904" y2="2692" stroke-width="6"/>
<line x1="346" y1="1446" x2="346" y2="2701" stroke-width="5.5"/>
<line x1="333" y1="2689" x2="1907" y2="2689" stroke-width="6"/>
<line x1="320" y1="1448.6" x2="346" y2="1448.6" stroke-width="5"/>
<line x1="320" y1="1674.0" x2="346" y2="1674.0" stroke-width="5"/>
<line x1="320" y1="1899.4" x2="346" y2="1899.4" stroke-width="5"/>
<line x1="320" y1="2124.8" x2="346" y2="2124.8" stroke-width="5"/>
<line x1="320" y1="2350.2" x2="346" y2="2350.2" stroke-width="5"/>
<line x1="320" y1="2575.6" x2="346" y2="2575.6" stroke-width="5"/>
<line x1="333" y1="1561.3" x2="346" y2="1561.3" stroke-width="5"/>
<line x1="333" y1="1786.7" x2="346" y2="1786.7" stroke-width="5"/>
<line x1="333" y1="2012.1" x2="346" y2="2012.1" stroke-width="5"/>
<line x1="333" y1="2237.5" x2="346" y2="2237.5" stroke-width="5"/>
<line x1="333" y1="2462.9" x2="346" y2="2462.9" stroke-width="5"/>
<line x1="333" y1="2688.3" x2="346" y2="2688.3" stroke-width="5"/>
<line x1="456.9" y1="2689" x2="456.9" y2="2713.5" stroke-width="5"/>
<line x1="679.5" y1="2689" x2="679.5" y2="2713.5" stroke-width="5"/>
<line x1="902.2" y1="2689" x2="902.2" y2="2713.5" stroke-width="5"/>
<line x1="1124.8" y1="2689" x2="1124.8" y2="2713.5" stroke-width="5"/>
<line x1="1347.5" y1="2689" x2="1347.5" y2="2713.5" stroke-width="5"/>
<line x1="1570.2" y1="2689" x2="1570.2" y2="2713.5" stroke-width="5"/>
<line x1="1792.8" y1="2689" x2="1792.8" y2="2713.5" stroke-width="5"/>
<line x1="345.6" y1="2689" x2="345.6" y2="2701" stroke-width="5"/>
<line x1="568.2" y1="2689" x2="568.2" y2="2701" stroke-width="5"/>
<line x1="790.9" y1="2689" x2="790.9" y2="2701" stroke-width="5"/>
<line x1="1013.5" y1="2689" x2="1013.5" y2="2701" stroke-width="5"/>
<line x1="1236.2" y1="2689" x2="1236.2" y2="2701" stroke-width="5"/>
<line x1="1458.8" y1="2689" x2="1458.8" y2="2701" stroke-width="5"/>
<line x1="1681.5" y1="2689" x2="1681.5" y2="2701" stroke-width="5"/>
<line x1="1904.1" y1="2689" x2="1904.1" y2="2701" stroke-width="5"/>
</g>
<line x1="456.9" y1="2497.6" x2="456.9" y2="2501.5" stroke="#c389ab" stroke-width="3"/>
<line x1="456.9" y1="2541.9" x2="456.9" y2="2548.6" stroke="#c389ab" stroke-width="3"/>
<line x1="790.4" y1="2218.6" x2="790.4" y2="2249.3" stroke="#c389ab" stroke-width="3"/>
<line x1="790.4" y1="2289.7" x2="790.4" y2="2319.7" stroke="#c389ab" stroke-width="3"/>
<line x1="1125.0" y1="1867.5" x2="1125.0" y2="1929.5" stroke="#d6b8cc" stroke-width="5"/>
<line x1="1125.0" y1="1969.9" x2="1125.0" y2="2032.2" stroke="#d6b8cc" stroke-width="5"/>
<circle cx="456.9" cy="2521.7" r="20.2" fill="url(#sph)"/>
<circle cx="790.4" cy="2269.5" r="20.2" fill="url(#sph)"/>
<circle cx="1125.0" cy="1949.7" r="20.2" fill="url(#sph)"/>
<circle cx="1458.2" cy="1791.3" r="20.2" fill="url(#sph)"/>
<circle cx="1792.2" cy="1547.8" r="20.2" fill="url(#sph)"/>
<line x1="443.9" y1="2497.6" x2="469.9" y2="2497.6" stroke="#b0608f" stroke-width="3"/>
<line x1="443.9" y1="2548.6" x2="469.9" y2="2548.6" stroke="#b0608f" stroke-width="3"/>
<line x1="777.4" y1="2218.6" x2="803.4" y2="2218.6" stroke="#b0608f" stroke-width="3"/>
<line x1="777.4" y1="2319.7" x2="803.4" y2="2319.7" stroke="#b0608f" stroke-width="3"/>
<line x1="1112.0" y1="1867.5" x2="1138.0" y2="1867.5" stroke="#b0608f" stroke-width="3"/>
<line x1="1112.0" y1="2032.2" x2="1138.0" y2="2032.2" stroke="#b0608f" stroke-width="3"/>
<line x1="1445.2" y1="1777.5" x2="1471.2" y2="1777.5" stroke="#b0608f" stroke-width="3"/>
<line x1="1445.2" y1="1804.6" x2="1471.2" y2="1804.6" stroke="#b0608f" stroke-width="3"/>
<line x1="1779.2" y1="1546.7" x2="1805.2" y2="1546.7" stroke="#b0608f" stroke-width="3"/>
<line x1="1779.2" y1="1546.7" x2="1805.2" y2="1546.7" stroke="#b0608f" stroke-width="3"/>
<line x1="1793.3" y1="1530" x2="1793.3" y2="1566" stroke="#b0608f" stroke-width="3"/>
<line x1="455" y1="2521.5" x2="1796" y2="1547" stroke="#a3005c" stroke-width="8.5" stroke-linecap="round"/>
<circle cx="491.5" cy="1560" r="20.8" fill="url(#sph)"/>
<line x1="425.5" y1="1632.7" x2="558.5" y2="1632.7" stroke="#a3005c" stroke-width="8" stroke-linecap="round"/>
<g fill="#000">
<text x="573.4" y="1580.5" font-family='"Liberation Sans", Arial, sans-serif' font-size="62.17" textLength="481.9" lengthAdjust="spacingAndGlyphs">Experimental data</text>
<text x="589.1" y="1652.7" font-family='"Liberation Sans", Arial, sans-serif' font-size="62.32" textLength="232.7" lengthAdjust="spacingAndGlyphs">Linear fit</text>
<text x="1374.6" y="2494.0" font-family='"Liberation Sans", Arial, sans-serif' font-size="59.57" textLength="495.8" lengthAdjust="spacingAndGlyphs">y=0.071x+1566.82</text>
<text x="1372.9" y="2575.9" font-family='"Liberation Sans", Arial, sans-serif' font-size="61.59" textLength="44.2" lengthAdjust="spacingAndGlyphs">R</text>
<text x="1417.2" y="2552.5" font-family='"Liberation Sans", Arial, sans-serif' font-size="40.14" textLength="22.3" lengthAdjust="spacingAndGlyphs">2</text>
<text x="1440.9" y="2575.9" font-family='"Liberation Sans", Arial, sans-serif' font-size="60.71" textLength="217.2" lengthAdjust="spacingAndGlyphs">=0.9994</text>
<text x="303.5" y="1467.8" text-anchor="end" font-family='"Liberation Sans", Arial, sans-serif' font-size="61.13" textLength="132.0" lengthAdjust="spacingAndGlyphs">1573</text>
<text x="303.5" y="1693.2" text-anchor="end" font-family='"Liberation Sans", Arial, sans-serif' font-size="61.13" textLength="132.0" lengthAdjust="spacingAndGlyphs">1572</text>
<text x="303.5" y="1918.6" text-anchor="end" font-family='"Liberation Sans", Arial, sans-serif' font-size="61.13" textLength="132.0" lengthAdjust="spacingAndGlyphs">1571</text>
<text x="303.5" y="2144.0" text-anchor="end" font-family='"Liberation Sans", Arial, sans-serif' font-size="61.13" textLength="132.0" lengthAdjust="spacingAndGlyphs">1570</text>
<text x="303.5" y="2369.4" text-anchor="end" font-family='"Liberation Sans", Arial, sans-serif' font-size="61.13" textLength="132.0" lengthAdjust="spacingAndGlyphs">1569</text>
<text x="303.5" y="2594.8" text-anchor="end" font-family='"Liberation Sans", Arial, sans-serif' font-size="61.13" textLength="132.0" lengthAdjust="spacingAndGlyphs">1568</text>
<text x="456.6" y="2776.9" text-anchor="middle" font-family='"Liberation Sans", Arial, sans-serif' font-size="60.56" textLength="68.0" lengthAdjust="spacingAndGlyphs">20</text>
<text x="679.2" y="2776.9" text-anchor="middle" font-family='"Liberation Sans", Arial, sans-serif' font-size="60.56" textLength="68.0" lengthAdjust="spacingAndGlyphs">30</text>
<text x="901.9" y="2776.9" text-anchor="middle" font-family='"Liberation Sans", Arial, sans-serif' font-size="60.56" textLength="68.0" lengthAdjust="spacingAndGlyphs">40</text>
<text x="1124.5" y="2776.9" text-anchor="middle" font-family='"Liberation Sans", Arial, sans-serif' font-size="60.56" textLength="68.0" lengthAdjust="spacingAndGlyphs">50</text>
<text x="1347.2" y="2776.9" text-anchor="middle" font-family='"Liberation Sans", Arial, sans-serif' font-size="60.56" textLength="68.0" lengthAdjust="spacingAndGlyphs">60</text>
<text x="1569.9" y="2776.9" text-anchor="middle" font-family='"Liberation Sans", Arial, sans-serif' font-size="60.56" textLength="68.0" lengthAdjust="spacingAndGlyphs">70</text>
<text x="1792.5" y="2776.9" text-anchor="middle" font-family='"Liberation Sans", Arial, sans-serif' font-size="60.56" textLength="68.0" lengthAdjust="spacingAndGlyphs">80</text>
<text x="846.2" y="2854.6" font-family='"Liberation Sans", Arial, sans-serif' font-size="70.58" textLength="558.6" lengthAdjust="spacingAndGlyphs">Temperature (°C)</text>
<text transform="translate(142.2,2322.5) rotate(-90)" x="0" y="0" font-family='"Liberation Sans", Arial, sans-serif' font-size="70.29" textLength="525.4" lengthAdjust="spacingAndGlyphs">Wavelength (nm)</text>
<text x="33.7" y="1445.5" font-family='"Liberation Serif", "Times New Roman", serif' font-size="104.62" textLength="126.3" lengthAdjust="spacingAndGlyphs">(b)</text>
</g>
</svg></body></html>
